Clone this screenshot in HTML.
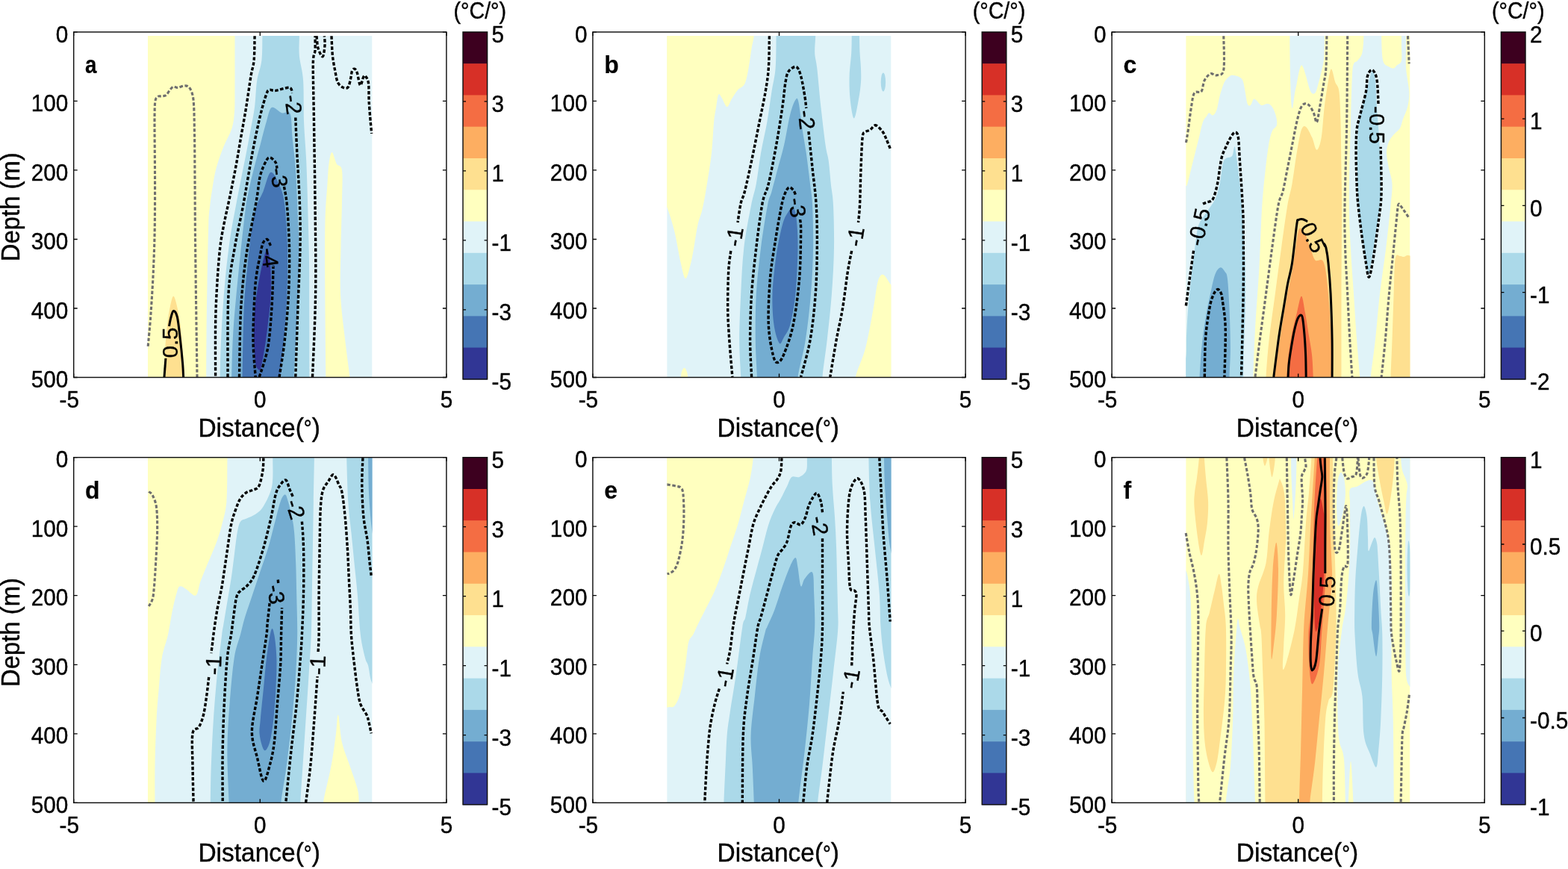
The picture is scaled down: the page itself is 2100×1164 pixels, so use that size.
<!DOCTYPE html>
<html><head><meta charset="utf-8"><title>Figure</title><style>html,body{margin:0;padding:0;background:#fff;width:2100px;height:1164px;overflow:hidden}svg{display:block}</style></head><body>
<svg width="2100" height="1164" viewBox="0 0 2100 1164" font-family="'Liberation Sans', Arial, sans-serif">
<rect width="2100" height="1164" fill="#fff"/>
<clipPath id="clip00"><rect x="198" y="48" width="300.5" height="457.5"/></clipPath>
<g clip-path="url(#clip00)">
<rect x="198.0" y="48" width="300.5" height="458" fill="#e0f3f8"/>
<path d="M314.5,30 C314.5,33 314.5,33.3 314.5,48 C314.5,62.7 314.6,101 314.5,118 C314.4,135 314.7,141 314,150 C313.3,159 312.9,164.2 310.5,172 C308.1,179.8 302.8,187.8 299.3,196.7 C295.8,205.6 292.1,215.9 289.5,225.6 C286.9,235.3 285.4,246.8 284,255 C282.6,263.2 282.1,267.5 281.3,275 C280.5,282.5 279.9,282.5 279.3,300 C278.7,317.5 278,355 277.5,380 C277,405 276.7,429.2 276.5,450 C276.3,470.8 276.2,491.7 276.2,505 C276.1,518.3 276.2,525.8 276.2,530 L150,530 L150,30 Z" fill="#ffffbf"/>
<path d="M220,530 C220,525.8 219.7,515 219.9,505 C220.1,495 220.3,481.7 221,470 C221.7,458.3 222.8,445 224,435 C225.2,425 226.6,416.4 228,410 C229.4,403.6 230.8,396.8 232.3,396.8 C233.8,396.8 235.5,403.6 237,410 C238.5,416.4 240.2,425 241.5,435 C242.8,445 243.6,458.3 244.5,470 C245.4,481.7 246.3,495 246.7,505 C247.1,515 246.9,525.8 247,530 Z" fill="#fee090"/>
<path d="M436.4,530 C436.4,525.8 436.6,526.7 436.4,505 C436.2,483.3 435.6,434.2 435.4,400 C435.2,365.8 434.9,325.7 435.4,300 C435.9,274.3 437.6,259.4 438.5,246 C439.4,232.6 439.5,226.4 440.5,219.4 C441.5,212.4 442.9,204 444.6,204 C446.3,204 448.6,215.4 450.8,219.4 C453,223.4 456.8,219.6 458,228 C459.2,236.4 458.2,253 458,270 C457.8,287 456.8,309.3 456.5,330 C456.2,350.7 455.1,373.1 456,394 C456.9,414.9 460.1,437.1 462.2,455.6 C464.3,474.1 467.1,492.6 468.4,505 C469.7,517.4 469.7,525.8 470,530 Z" fill="#ffffbf"/>
<path d="M351.4,30 C351.4,33 351.6,39.5 351.4,48 C351.2,56.5 351.6,71 350.4,81 C349.2,91 345.8,97.7 344.2,108 C342.6,118.3 342.5,132.3 341.1,143 C339.7,153.7 337.9,161.7 336,172 C334.1,182.3 331.9,194.3 329.8,205 C327.7,215.7 325.9,224.3 323.6,236 C321.3,247.7 318.6,261 316,275 C313.4,289 310.3,304.2 308,320 C305.7,335.8 303.7,353.3 302,370 C300.3,386.7 299.1,403.3 298,420 C296.9,436.7 296.1,455.8 295.5,470 C294.9,484.2 294.9,495 294.7,505 C294.5,515 294.5,525.8 294.5,530 L414.3,530 C414.3,525.8 414.3,521.7 414.3,505 C414.3,488.3 414.4,455.8 414.3,430 C414.2,404.2 414.3,375 414,350 C413.7,325 412.9,302.5 412.3,280 C411.7,257.5 411.1,234.3 410.2,215 C409.3,195.7 407.8,181.8 407.1,164 C406.4,146.2 407.1,122.8 406.1,108 C405.1,93.2 401.8,85 400.9,75 C400,65 400.9,55.5 400.9,48 C400.9,40.5 400.9,33 400.9,30 Z" fill="#abd9e9"/>
<path d="M310,530 C310,525.8 309.9,518.3 310.2,505 C310.5,491.7 311,467.5 312,450 C313,432.5 314.3,418.3 316,400 C317.7,381.7 319.9,360 322,340 C324.1,320 327,293.9 328.8,280 C330.6,266.1 331,265.6 332.9,256.5 C334.8,247.4 337.5,235.9 340.1,225.6 C342.7,215.3 345.6,204.9 348.4,194.6 C351.1,184.3 354,172.1 356.6,163.7 C359.2,155.3 360.4,146.2 363.8,144.1 C367.2,142 373.1,149.9 377.2,151.3 C381.3,152.7 386.2,146.9 388.6,152.4 C391,157.9 390.4,172.1 391.6,184.3 C392.8,196.5 394.7,209.7 395.8,225.6 C396.9,241.5 397.7,262.6 398.5,280 C399.3,297.4 400.2,313.3 400.5,330 C400.8,346.7 400.6,361.7 400,380 C399.4,398.3 398.1,419.2 397,440 C395.9,460.8 394.3,490 393.7,505 C393.1,520 393.5,525.8 393.5,530 Z" fill="#74add1"/>
<path d="M324.5,530 C324.5,525.8 324.2,524.3 324.6,505 C325,485.7 325.5,439.5 326.7,414 C327.9,388.5 330,371 331.9,352 C333.8,333 336,312.8 338,300 C340,287.2 341.6,282.2 344,275 C346.4,267.8 349.4,263.9 352.5,256.5 C355.6,249.1 359,231.7 362.8,230.7 C366.6,229.7 372.1,242.9 375.2,250.3 C378.3,257.7 379.7,261.7 381.3,275 C382.9,288.3 384.5,310.2 385,330 C385.5,349.8 385.2,373.1 384.4,394 C383.6,414.9 381.8,437.1 380.3,455.6 C378.8,474.1 376.1,492.6 375.2,505 C374.3,517.4 375,525.8 375,530 Z" fill="#4575b4"/>
<path d="M357.6,334 C359.7,332.3 360.9,342.6 361.8,352.5 C362.7,362.4 363.3,379.9 362.8,393.7 C362.3,407.4 360.1,423 358.7,435 C357.3,447 356.1,456.3 354.5,465.9 C352.9,475.5 350.8,487.8 349.4,492.7 C348,497.6 347.5,496 346.3,495 C345.1,494 343.2,493.1 342.2,486.5 C341.2,479.9 340.3,467.6 340.1,455.6 C339.9,443.6 339.6,429.8 341.1,414.3 C342.7,398.8 346.6,376.2 349.4,362.8 C352.1,349.4 355.5,335.7 357.6,334 Z" fill="#313695"/>
</g>
<path d="M198.2,463.8 C198.8,456.5 200.8,437.3 202,420 C203.2,402.7 204.6,380 205.5,360 C206.4,340 207,321.7 207.3,300 C207.6,278.3 207.6,253.3 207.5,230 C207.4,206.7 206.9,175.8 207,160 C207.1,144.2 207.2,140.6 207.9,135.5 C208.7,130.4 210.1,130.5 211.5,129.4 C212.9,128.3 214.5,129.1 216.3,128.8 C218.1,128.5 220.6,128.9 222.4,127.6 C224.2,126.3 225.6,122.9 227.2,121 C228.8,119.1 230.2,116.8 232,116.2 C233.8,115.6 235.6,117.6 238,117.4 C240.4,117.2 244,115.2 246.4,115 C248.8,114.8 250.6,114.6 252.4,116.2 C254.2,117.8 256,120.6 257.2,124.6 C258.4,128.6 258.9,130.8 259.5,140 C260.1,149.2 260.2,163.3 260.5,180 C260.8,196.7 260.8,216.7 261,240 C261.2,263.3 261.2,293.3 261.5,320 C261.8,346.7 262.1,369.2 262.5,400 C262.9,430.8 263.8,487.5 264,505" fill="none" stroke="#6e6e6e" stroke-width="3.1" stroke-dasharray="4.4 2.6"/>
<path d="M219.9,506 L221.9,480" fill="none" stroke="#000" stroke-width="3"/>
<path d="M226.5,437 C226.9,435 228,428.4 229,425 C230,421.6 230.9,416.5 232.3,416.4 C233.7,416.3 235.9,418.1 237.4,424.6 C238.9,431.1 240.3,445.3 241.5,455.6 C242.7,465.9 243.9,478.1 244.6,486.5 C245.3,494.9 245.5,502.8 245.7,506" fill="none" stroke="#000" stroke-width="3"/>
<text x="0" y="0" font-size="29.5" text-anchor="middle" dominant-baseline="central" stroke="#000" stroke-width="0.35" transform="translate(227,459) rotate(-90)">0.5</text>
<path d="M341.1,48.2 C340.9,53.7 341,72.2 340.1,81.2 C339.2,90.2 337.7,91.6 336,101.9 C334.3,112.2 332,129.3 329.8,143 C327.6,156.7 325,170.5 322.6,184.3 C320.2,198.1 318,211.8 315.4,225.6 C312.8,239.3 309.7,254.4 307.1,266.8 C304.5,279.2 302.1,289.1 300,300 C297.9,310.9 296.3,318 294.7,331.9 C293.1,345.8 291.6,366.2 290.6,383.4 C289.6,400.6 288.9,414.7 288.6,435 C288.3,455.3 288.6,493.3 288.6,505" fill="none" stroke="#000" stroke-width="3.4" stroke-dasharray="4.5 2.5"/>
<path d="M418.5,505 C419.2,486.4 422,432.9 422.6,393.7 C423.2,354.5 422.4,308.3 422,270 C421.6,231.7 420.9,194.5 420.5,163.7 C420.1,132.9 419.1,101.4 419.3,85.4 C419.6,69.4 421.6,73.7 422,67.5 C422.4,61.3 422,51.5 422,48.3" fill="none" stroke="#000" stroke-width="3.4" stroke-dasharray="4.5 2.5"/>
<path d="M424,48.3 C424.4,51 424.7,60.2 426.1,64.8 C427.5,69.4 430.8,76.5 432.3,75.8 C433.8,75.1 434.6,65.2 435,60.6 C435.4,56 434.5,50.3 434.4,48.3" fill="none" stroke="#000" stroke-width="3.4" stroke-dasharray="4.5 2.5"/>
<path d="M444,48.3 C444.2,52.6 444.6,66.6 445.4,74.4 C446.2,82.2 447.6,89 448.8,95 C450,101 450.6,106.5 452.3,110.2 C454,113.9 456.8,115.9 459.1,117 C461.4,118.1 464.3,118.8 466,117 C467.7,115.2 468.6,109.7 469.5,106 C470.4,102.3 470.6,97.3 471.5,95 C472.4,92.7 473.9,91.8 475,92.3 C476.1,92.8 477.1,94.1 478.4,97.8 C479.6,101.5 481.1,113.4 482.5,114.3 C483.9,115.2 485.6,105.4 486.7,103.3 C487.8,101.2 488.3,100.5 489.4,101.9 C490.5,103.3 492.7,105.8 493.5,111.5 C494.3,117.2 493.7,127.6 494.2,136.3 C494.7,145 495.7,156.7 496.3,163.8 C496.9,170.9 497.5,176.4 497.7,178.9" fill="none" stroke="#000" stroke-width="3.4" stroke-dasharray="4.5 2.5"/>
<path d="M305,505 C305.2,486.4 304.4,422.6 306,393.7 C307.6,364.8 311,351.7 314.3,331.9 C317.6,312.1 321.8,296.1 325.7,275 C329.6,253.8 334.2,224.9 338,205 C341.8,185.1 345.3,168.6 348.4,155.5 C351.5,142.4 354.6,132.4 356.6,126.6 C358.7,120.8 358.6,121.3 360.7,120.4 C362.8,119.5 364.5,121.9 369,121.4 C373.5,120.9 383.7,116.8 387.5,117.3 C391.3,117.8 390.9,123.3 391.6,124.5" fill="none" stroke="#000" stroke-width="3.4" stroke-dasharray="4.5 2.5"/>
<path d="M395.8,157.5 C396.1,165.4 396.9,185.4 397.8,205 C398.8,224.6 400.8,253.8 401.5,275 C402.2,296.1 402.4,308.7 402,331.9 C401.6,355.1 399.9,385.4 398.9,414.3 C397.9,443.2 396.3,489.9 395.8,505" fill="none" stroke="#000" stroke-width="3.4" stroke-dasharray="4.5 2.5"/>
<text x="0" y="0" font-size="29.5" text-anchor="middle" dominant-baseline="central" stroke="#000" stroke-width="0.35" transform="translate(393,140) rotate(82)">-2</text>
<path d="M320.5,505 C320.9,489.9 321.1,441.4 322.6,414.3 C324.2,387.2 326.4,366.2 329.8,342.2 C333.2,318.1 340.1,287.7 343.2,270 C346.3,252.3 346.2,245 348.4,235.9 C350.6,226.8 354.4,219.4 356.6,215.3 C358.8,211.2 359.7,210.8 361.8,211.1 C363.9,211.4 367.5,214.9 369,217.3 C370.5,219.7 370.7,224.2 371,225.6" fill="none" stroke="#000" stroke-width="3.4" stroke-dasharray="4.5 2.5"/>
<path d="M380.5,250 C381.1,254.2 383.2,261.4 384.4,275 C385.6,288.6 387.1,312.1 387.5,331.9 C387.9,351.7 387.5,373.1 386.5,393.7 C385.5,414.3 383.4,437.1 381.3,455.6 C379.2,474.2 375.3,496.8 374.1,505" fill="none" stroke="#000" stroke-width="3.4" stroke-dasharray="4.5 2.5"/>
<text x="0" y="0" font-size="29.5" text-anchor="middle" dominant-baseline="central" stroke="#000" stroke-width="0.35" transform="translate(374,238) rotate(82)">-3</text>
<path d="M362.5,329 C361.7,327.6 359.4,321 357.6,320.5 C355.9,320 353.5,322.4 352,326 C350.5,329.6 349.7,335.7 348.4,342.2 C347.1,348.7 345.2,356.4 344,365 C342.8,373.6 341.9,378.6 341.1,393.7 C340.3,408.8 338.8,437.1 339,455.6 C339.2,474.2 341.7,496.8 342.2,505" fill="none" stroke="#000" stroke-width="3.4" stroke-dasharray="4.5 2.5"/>
<path d="M347.3,505 C349.2,498.5 355.9,481 358.7,465.9 C361.4,450.8 362.6,431.5 363.8,414.3 C365,397.1 365.6,372.4 365.9,362.8 C366.2,353.2 365.6,358 365.5,357" fill="none" stroke="#000" stroke-width="3.4" stroke-dasharray="4.5 2.5"/>
<text x="0" y="0" font-size="29.5" text-anchor="middle" dominant-baseline="central" stroke="#000" stroke-width="0.35" transform="translate(361.5,345) rotate(82)">-4</text>
<path d="M98.7,42.9 h5 M597.9,42.9 h-5" stroke="#000" stroke-width="1.3" fill="none"/>
<text x="0" y="0" transform="translate(91.2,56.5) scale(0.99,1.045)" font-size="30" text-anchor="end" stroke="#000" stroke-width="0.4">0</text>
<path d="M98.7,135.4 h5 M597.9,135.4 h-5" stroke="#000" stroke-width="1.3" fill="none"/>
<text x="0" y="0" transform="translate(91.2,149) scale(0.99,1.045)" font-size="30" text-anchor="end" stroke="#000" stroke-width="0.4">100</text>
<path d="M98.7,227.9 h5 M597.9,227.9 h-5" stroke="#000" stroke-width="1.3" fill="none"/>
<text x="0" y="0" transform="translate(91.2,241.5) scale(0.99,1.045)" font-size="30" text-anchor="end" stroke="#000" stroke-width="0.4">200</text>
<path d="M98.7,320.5 h5 M597.9,320.5 h-5" stroke="#000" stroke-width="1.3" fill="none"/>
<text x="0" y="0" transform="translate(91.2,334.1) scale(0.99,1.045)" font-size="30" text-anchor="end" stroke="#000" stroke-width="0.4">300</text>
<path d="M98.7,413 h5 M597.9,413 h-5" stroke="#000" stroke-width="1.3" fill="none"/>
<text x="0" y="0" transform="translate(91.2,426.6) scale(0.99,1.045)" font-size="30" text-anchor="end" stroke="#000" stroke-width="0.4">400</text>
<path d="M98.7,505.5 h5 M597.9,505.5 h-5" stroke="#000" stroke-width="1.3" fill="none"/>
<text x="0" y="0" transform="translate(91.2,519.1) scale(0.99,1.045)" font-size="30" text-anchor="end" stroke="#000" stroke-width="0.4">500</text>
<path d="M98.7,505.5 v-5 M98.7,42.9 v5" stroke="#000" stroke-width="1.3" fill="none"/>
<text x="0" y="0" transform="translate(92.7,546.2) scale(0.99,1.045)" font-size="30" text-anchor="middle" stroke="#000" stroke-width="0.4">-5</text>
<path d="M348.3,505.5 v-5 M348.3,42.9 v5" stroke="#000" stroke-width="1.3" fill="none"/>
<text x="0" y="0" transform="translate(348.3,546.2) scale(0.99,1.045)" font-size="30" text-anchor="middle" stroke="#000" stroke-width="0.4">0</text>
<path d="M597.9,505.5 v-5 M597.9,42.9 v5" stroke="#000" stroke-width="1.3" fill="none"/>
<text x="0" y="0" transform="translate(597.9,546.2) scale(0.99,1.045)" font-size="30" text-anchor="middle" stroke="#000" stroke-width="0.4">5</text>
<rect x="98.7" y="42.9" width="499.2" height="462.6" fill="none" stroke="#111" stroke-width="1.45"/>
<text x="0" y="0" transform="translate(347.1,584.5) scale(1.0,1.07)" font-size="33.5" text-anchor="middle" stroke="#000" stroke-width="0.4">Distance(<tspan font-size="27" dy="-1.5">°</tspan><tspan dy="1.5">)</tspan></text>
<text x="0" y="0" font-size="33.5" text-anchor="middle" stroke="#000" stroke-width="0.4" transform="translate(26.3,277.2) rotate(-90) scale(0.98,1.07)">Depth (m)</text>
<text x="0" y="0" transform="translate(114.1,98.2) scale(0.87,1.04)" font-size="32" text-anchor="start" font-weight="bold" stroke="#000" stroke-width="0.2">a</text>
<rect x="620" y="42.9" width="32.6" height="42.9" fill="#3d001f"/>
<rect x="620" y="85.2" width="32.6" height="42.9" fill="#d73027"/>
<rect x="620" y="127.4" width="32.6" height="42.9" fill="#f46d43"/>
<rect x="620" y="169.7" width="32.6" height="42.9" fill="#fdae61"/>
<rect x="620" y="212" width="32.6" height="42.9" fill="#fee090"/>
<rect x="620" y="254.3" width="32.6" height="42.9" fill="#ffffbf"/>
<rect x="620" y="296.5" width="32.6" height="42.9" fill="#e0f3f8"/>
<rect x="620" y="338.8" width="32.6" height="42.9" fill="#abd9e9"/>
<rect x="620" y="381.1" width="32.6" height="42.9" fill="#74add1"/>
<rect x="620" y="423.4" width="32.6" height="42.9" fill="#4575b4"/>
<rect x="620" y="465.6" width="32.6" height="42.9" fill="#313695"/>
<text x="0" y="0" transform="translate(658.6,57) scale(0.99,1.045)" font-size="30" text-anchor="start" stroke="#000" stroke-width="0.4">5</text>
<path d="M620,135.9 h4 M652.6,135.9 h-4" stroke="#000" stroke-width="1.3" fill="none"/>
<text x="0" y="0" transform="translate(658.6,150) scale(0.99,1.045)" font-size="30" text-anchor="start" stroke="#000" stroke-width="0.4">3</text>
<path d="M620,228.9 h4 M652.6,228.9 h-4" stroke="#000" stroke-width="1.3" fill="none"/>
<text x="0" y="0" transform="translate(658.6,243) scale(0.99,1.045)" font-size="30" text-anchor="start" stroke="#000" stroke-width="0.4">1</text>
<path d="M620,321.9 h4 M652.6,321.9 h-4" stroke="#000" stroke-width="1.3" fill="none"/>
<text x="0" y="0" transform="translate(658.6,336) scale(0.99,1.045)" font-size="30" text-anchor="start" stroke="#000" stroke-width="0.4">-1</text>
<path d="M620,414.9 h4 M652.6,414.9 h-4" stroke="#000" stroke-width="1.3" fill="none"/>
<text x="0" y="0" transform="translate(658.6,429) scale(0.99,1.045)" font-size="30" text-anchor="start" stroke="#000" stroke-width="0.4">-3</text>
<text x="0" y="0" transform="translate(658.6,522) scale(0.99,1.045)" font-size="30" text-anchor="start" stroke="#000" stroke-width="0.4">-5</text>
<rect x="620" y="42.9" width="32.6" height="465" fill="none" stroke="#111" stroke-width="1.45"/>
<text x="0" y="0" transform="translate(642.8,24.8) scale(0.955,1.06)" font-size="30" text-anchor="middle" stroke="#000" stroke-width="0.4">(°C/°)</text>
<clipPath id="clip10"><rect x="893.2" y="48" width="300.3" height="457.5"/></clipPath>
<g clip-path="url(#clip10)">
<rect x="893.2" y="48" width="300.29999999999995" height="458" fill="#e0f3f8"/>
<path d="M1009.7,30 C1009.7,33 1010.2,42.4 1009.7,48.2 C1009.2,54 1007.8,57.5 1006.6,64.7 C1005.4,71.9 1004,83.6 1002.5,91.5 C1001,99.4 999.8,107.4 997.4,112.2 C995,117 991,117 988.1,120.4 C985.2,123.8 982.2,129 979.8,132.8 C977.4,136.6 975.9,143.4 973.7,143.1 C971.5,142.8 968.3,133.4 966.4,130.7 C964.5,127.9 963.5,124.5 962.3,126.6 C961.1,128.7 960.2,136.9 959.2,143.1 C958.2,149.3 957.1,153.4 956.1,163.7 C955.1,174 954.5,191.2 953,205 C951.5,218.8 948.9,233.7 946.9,246.2 C944.9,258.7 942.8,270.9 940.7,280 C938.6,289.1 936.4,292.4 934.5,301 C932.6,309.6 931,322.6 929.3,331.9 C927.6,341.2 926.1,349.7 924.2,356.6 C922.3,363.5 920.1,373.8 918,373.1 C915.9,372.4 914.2,362.8 911.8,352.5 C909.4,342.2 906.4,322.8 903.6,311.2 C900.9,299.6 897.2,288.7 895.3,283 C893.4,277.3 894.5,278.8 892,277 C889.5,275.2 882,272.8 880,272 L880,30 Z" fill="#ffffbf"/>
<path d="M1145.5,530 C1145.5,525.8 1143.5,515.7 1145.8,505 C1148.1,494.3 1155.2,481 1159.2,465.9 C1163.2,450.8 1166.8,429.1 1169.5,414.3 C1172.2,399.5 1173.5,384.9 1175.7,377.2 C1177.9,369.5 1180,367.2 1182.9,367.9 C1185.8,368.6 1189.5,376.8 1193.2,381.3 C1196.9,385.8 1203,392.7 1205,395 L1205,530 Z" fill="#ffffbf"/>
<path d="M911.5,515 C911.7,512.5 911.7,503.7 912.5,500 C913.3,496.3 915.2,492.7 916.5,492.7 C917.8,492.7 919.7,496.3 920.5,500 C921.3,503.7 921.2,512.5 921.3,515 Z" fill="#ffffbf"/>
<path d="M1039.6,30 C1039.6,33 1039.8,38 1039.6,48.2 C1039.4,58.5 1039.6,79.1 1038.6,91.5 C1037.6,103.9 1035.4,110.5 1033.5,122.5 C1031.6,134.5 1029.7,149.9 1027.3,163.7 C1024.9,177.4 1021.4,191.2 1019,205 C1016.6,218.8 1015,234.5 1012.8,246.2 C1010.6,257.9 1008.8,260.7 1006,275 C1003.2,289.3 998.6,312.1 996.3,331.9 C994,351.7 993.2,373.1 992.2,393.7 C991.2,414.3 990.2,437.1 990.2,455.6 C990.2,474.2 991.8,492.6 992.2,505 C992.6,517.4 992.5,525.8 992.5,530 L1101.5,530 C1101.5,525.8 1100.5,517.4 1101.5,505 C1102.5,492.6 1105.6,474.2 1107.7,455.6 C1109.8,437.1 1112.4,414.3 1113.9,393.7 C1115.5,373.1 1116.7,351.7 1117,331.9 C1117.3,312.1 1116.7,289.3 1116,275 C1115.3,260.7 1113.8,256.1 1112.8,246.2 C1111.8,236.2 1110.9,223.9 1109.7,215.3 C1108.5,206.7 1107.3,206.6 1105.6,194.6 C1103.9,182.6 1101.3,160.3 1099.4,143.1 C1097.5,125.9 1095.7,103.5 1094.3,91.5 C1092.9,79.5 1091.5,78.2 1091.2,71 C1090.9,63.8 1092,55 1092.2,48.2 C1092.4,41.4 1092.2,33 1092.2,30 Z" fill="#abd9e9"/>
<path d="M1140.7,35 C1140.7,37.5 1140.8,44 1140.7,50 C1140.6,56 1140.7,62.4 1140.2,71 C1139.7,79.7 1137.9,91.6 1137.6,101.9 C1137.3,112.2 1137.6,123.4 1138.6,132.8 C1139.6,142.2 1141.9,158.6 1143.8,158.6 C1145.7,158.6 1148.5,140.9 1150,132.8 C1151.5,124.7 1152.5,116.9 1153,110 C1153.5,103.1 1153.2,98.2 1153,91.5 C1152.8,84.8 1151.8,76.9 1151.5,70 C1151.2,63.1 1151.1,55.8 1151,50 C1150.9,44.2 1151,37.5 1151,35 Z" fill="#abd9e9"/>
<ellipse cx="1182.9" cy="110" rx="3.2" ry="12.5" fill="#abd9e9"/>
<path d="M1013.9,530 C1013.9,525.8 1014.2,517.4 1013.9,505 C1013.5,492.6 1012,474.2 1011.8,455.6 C1011.6,437.1 1011.6,414.3 1012.8,393.7 C1014,373.1 1016.5,351.7 1019,331.9 C1021.5,312.1 1025.6,287.6 1028,275 C1030.4,262.4 1031.2,264.7 1033.5,256.5 C1035.8,248.3 1039,235.9 1041.7,225.6 C1044.5,215.3 1047.2,206.6 1050,194.6 C1052.8,182.6 1055.6,163.5 1058.2,153.4 C1060.8,143.3 1063.5,136.5 1065.4,133.8 C1067.3,131.1 1068,130.3 1069.5,137 C1071,143.7 1073,162.7 1074.7,174 C1076.4,185.3 1078.1,193 1079.8,205 C1081.5,217 1083.6,234.5 1085,246.2 C1086.4,257.9 1087.4,260.7 1088.1,275 C1088.8,289.3 1089.4,312.1 1089.1,331.9 C1088.8,351.7 1087.7,373.1 1086,393.7 C1084.3,414.3 1081.7,437.1 1078.8,455.6 C1075.9,474.2 1070.3,492.6 1068.5,505 C1066.7,517.4 1068.1,525.8 1068,530 Z" fill="#74add1"/>
<path d="M1062,279 C1063.9,279.9 1065.3,281.8 1066.4,290.6 C1067.5,299.4 1068.7,314.7 1068.5,331.9 C1068.3,349.1 1067.1,376.5 1065.4,393.7 C1063.7,410.9 1060.8,425.4 1058.2,435 C1055.6,444.6 1052.4,447.3 1050,451.4 C1047.6,455.5 1046,462.4 1043.8,459.7 C1041.5,457 1038,446 1036.5,435 C1035,424 1034,409.2 1034.5,393.7 C1035,378.2 1037.4,357.7 1039.6,342.2 C1041.8,326.7 1045.3,310.4 1047.9,300.9 C1050.5,291.4 1052.7,288.6 1055,285 C1057.3,281.4 1060.1,278.1 1062,279 Z" fill="#4575b4"/>
</g>
<path d="M1030.4,48.2 C1030.2,55.4 1030.2,79.1 1029.3,91.5 C1028.4,103.9 1027.2,110.5 1025.2,122.5 C1023.2,134.5 1020.1,148.2 1017,163.7 C1013.9,179.2 1009.9,199.8 1006.6,215.3 C1003.3,230.8 999.8,247.1 997.4,256.5 C995,265.9 993.8,265.1 992.2,272 C990.6,278.9 988.7,293.7 988,298" fill="none" stroke="#000" stroke-width="3.4" stroke-dasharray="4.5 2.5"/>
<path d="M978.8,336 C978.3,340.5 976.4,349.8 975.7,362.8 C975,375.9 974.5,398.8 974.7,414.3 C974.9,429.8 975.8,440.5 976.8,455.6 C977.8,470.7 980.2,496.8 980.9,505" fill="none" stroke="#000" stroke-width="3.4" stroke-dasharray="4.5 2.5"/>
<text x="0" y="0" font-size="29.5" text-anchor="middle" dominant-baseline="central" stroke="#000" stroke-width="0.35" transform="translate(983.5,317) rotate(-81)">-1</text>
<path d="M1006.6,505 C1006.3,496.8 1004.6,474.2 1004.6,455.6 C1004.6,437.1 1005.2,414.3 1006.6,393.7 C1008,373.1 1010.4,352.2 1012.8,331.9 C1015.2,311.6 1018.4,286.3 1021.1,272 C1023.9,257.7 1026.2,259.1 1029.3,246.2 C1032.4,233.3 1036.5,211.8 1039.6,194.6 C1042.7,177.4 1045.8,157.2 1047.9,143.1 C1050,129 1050.6,118 1052,110.1 C1053.4,102.2 1053.7,99.1 1056.1,95.7 C1058.5,92.3 1063.7,88.5 1066.4,89.5 C1069.2,90.5 1070.7,95.4 1072.6,101.9 C1074.5,108.4 1076.6,121.5 1077.8,128.7 C1079,135.9 1079.5,142.3 1079.8,145" fill="none" stroke="#000" stroke-width="3.4" stroke-dasharray="4.5 2.5"/>
<path d="M1082.9,176.1 C1083.8,184.3 1086.4,209.1 1088.1,225.6 C1089.8,242.1 1092.2,257.3 1093.2,275 C1094.2,292.7 1094.5,312.1 1094.3,331.9 C1094.1,351.7 1093.8,373.1 1092.2,393.7 C1090.7,414.3 1088.3,437.1 1085,455.6 C1081.7,474.2 1074.7,496.8 1072.6,505" fill="none" stroke="#000" stroke-width="3.4" stroke-dasharray="4.5 2.5"/>
<text x="0" y="0" font-size="29.5" text-anchor="middle" dominant-baseline="central" stroke="#000" stroke-width="0.35" transform="translate(1080.5,160.5) rotate(84)">-2</text>
<path d="M1071.6,294 C1071.8,296.9 1072.8,298 1072.6,311.2 C1072.4,324.4 1072.3,352.5 1070.6,373.1 C1068.9,393.7 1065.7,418.2 1062.3,435 C1058.9,451.8 1053.4,465.7 1050,474.1 C1046.6,482.5 1044.1,485.1 1041.7,485.5 C1039.3,485.9 1037.6,484.6 1035.5,476.2 C1033.4,467.8 1030,452.2 1029.3,435 C1028.6,417.8 1029.9,392 1031.4,373.1 C1033,354.2 1036.2,337 1038.6,321.5 C1041,306 1043.9,289.8 1045.8,280 C1047.7,270.2 1048.3,267.5 1050,262.7 C1051.7,257.9 1054,252.7 1056.1,251.3 C1058.1,249.9 1060.7,252.8 1062.3,254.4 C1063.9,256 1065,259.9 1065.5,261" fill="none" stroke="#000" stroke-width="3.4" stroke-dasharray="4.5 2.5"/>
<text x="0" y="0" font-size="29.5" text-anchor="middle" dominant-baseline="central" stroke="#000" stroke-width="0.35" transform="translate(1068,278) rotate(82)">-3</text>
<path d="M1192.2,198.8 C1191.3,196.7 1188.8,190.2 1187.1,186.4 C1185.4,182.6 1184.3,179.2 1181.9,176.1 C1179.5,173 1175.3,168.2 1172.6,167.8 C1169.8,167.5 1167.8,172.4 1165.4,174 C1163,175.6 1159.9,175.4 1158.2,177.1 C1156.5,178.8 1156,176.2 1155.1,184.3 C1154.2,192.4 1153.6,210.5 1153,225.6 C1152.4,240.7 1152.1,262.9 1151.5,275 C1150.9,287.1 1149.8,294.2 1149.5,298" fill="none" stroke="#000" stroke-width="3.4" stroke-dasharray="4.5 2.5"/>
<path d="M1140.7,336 C1139.8,340.5 1137.6,349.8 1135.5,362.8 C1133.4,375.9 1130.9,398.8 1128.3,414.3 C1125.7,429.8 1122.8,440.5 1120.1,455.6 C1117.3,470.7 1113.2,496.8 1111.8,505" fill="none" stroke="#000" stroke-width="3.4" stroke-dasharray="4.5 2.5"/>
<text x="0" y="0" font-size="29.5" text-anchor="middle" dominant-baseline="central" stroke="#000" stroke-width="0.35" transform="translate(1145.5,317) rotate(-81)">-1</text>
<path d="M793.9,42.9 h5 M1293.1,42.9 h-5" stroke="#000" stroke-width="1.3" fill="none"/>
<text x="0" y="0" transform="translate(786.4,56.5) scale(0.99,1.045)" font-size="30" text-anchor="end" stroke="#000" stroke-width="0.4">0</text>
<path d="M793.9,135.4 h5 M1293.1,135.4 h-5" stroke="#000" stroke-width="1.3" fill="none"/>
<text x="0" y="0" transform="translate(786.4,149) scale(0.99,1.045)" font-size="30" text-anchor="end" stroke="#000" stroke-width="0.4">100</text>
<path d="M793.9,227.9 h5 M1293.1,227.9 h-5" stroke="#000" stroke-width="1.3" fill="none"/>
<text x="0" y="0" transform="translate(786.4,241.5) scale(0.99,1.045)" font-size="30" text-anchor="end" stroke="#000" stroke-width="0.4">200</text>
<path d="M793.9,320.5 h5 M1293.1,320.5 h-5" stroke="#000" stroke-width="1.3" fill="none"/>
<text x="0" y="0" transform="translate(786.4,334.1) scale(0.99,1.045)" font-size="30" text-anchor="end" stroke="#000" stroke-width="0.4">300</text>
<path d="M793.9,413 h5 M1293.1,413 h-5" stroke="#000" stroke-width="1.3" fill="none"/>
<text x="0" y="0" transform="translate(786.4,426.6) scale(0.99,1.045)" font-size="30" text-anchor="end" stroke="#000" stroke-width="0.4">400</text>
<path d="M793.9,505.5 h5 M1293.1,505.5 h-5" stroke="#000" stroke-width="1.3" fill="none"/>
<text x="0" y="0" transform="translate(786.4,519.1) scale(0.99,1.045)" font-size="30" text-anchor="end" stroke="#000" stroke-width="0.4">500</text>
<path d="M793.9,505.5 v-5 M793.9,42.9 v5" stroke="#000" stroke-width="1.3" fill="none"/>
<text x="0" y="0" transform="translate(787.9,546.2) scale(0.99,1.045)" font-size="30" text-anchor="middle" stroke="#000" stroke-width="0.4">-5</text>
<path d="M1043.5,505.5 v-5 M1043.5,42.9 v5" stroke="#000" stroke-width="1.3" fill="none"/>
<text x="0" y="0" transform="translate(1043.5,546.2) scale(0.99,1.045)" font-size="30" text-anchor="middle" stroke="#000" stroke-width="0.4">0</text>
<path d="M1293.1,505.5 v-5 M1293.1,42.9 v5" stroke="#000" stroke-width="1.3" fill="none"/>
<text x="0" y="0" transform="translate(1293.1,546.2) scale(0.99,1.045)" font-size="30" text-anchor="middle" stroke="#000" stroke-width="0.4">5</text>
<rect x="793.9" y="42.9" width="499.2" height="462.6" fill="none" stroke="#111" stroke-width="1.45"/>
<text x="0" y="0" transform="translate(1042.3,584.5) scale(1.0,1.07)" font-size="33.5" text-anchor="middle" stroke="#000" stroke-width="0.4">Distance(<tspan font-size="27" dy="-1.5">°</tspan><tspan dy="1.5">)</tspan></text>
<text x="0" y="0" transform="translate(809.3,98.2) scale(1.0,1.04)" font-size="32" text-anchor="start" font-weight="bold" stroke="#000" stroke-width="0.2">b</text>
<rect x="1315.2" y="42.9" width="32.6" height="42.9" fill="#3d001f"/>
<rect x="1315.2" y="85.2" width="32.6" height="42.9" fill="#d73027"/>
<rect x="1315.2" y="127.4" width="32.6" height="42.9" fill="#f46d43"/>
<rect x="1315.2" y="169.7" width="32.6" height="42.9" fill="#fdae61"/>
<rect x="1315.2" y="212" width="32.6" height="42.9" fill="#fee090"/>
<rect x="1315.2" y="254.3" width="32.6" height="42.9" fill="#ffffbf"/>
<rect x="1315.2" y="296.5" width="32.6" height="42.9" fill="#e0f3f8"/>
<rect x="1315.2" y="338.8" width="32.6" height="42.9" fill="#abd9e9"/>
<rect x="1315.2" y="381.1" width="32.6" height="42.9" fill="#74add1"/>
<rect x="1315.2" y="423.4" width="32.6" height="42.9" fill="#4575b4"/>
<rect x="1315.2" y="465.6" width="32.6" height="42.9" fill="#313695"/>
<text x="0" y="0" transform="translate(1353.8,57) scale(0.99,1.045)" font-size="30" text-anchor="start" stroke="#000" stroke-width="0.4">5</text>
<path d="M1315.2,135.9 h4 M1347.8,135.9 h-4" stroke="#000" stroke-width="1.3" fill="none"/>
<text x="0" y="0" transform="translate(1353.8,150) scale(0.99,1.045)" font-size="30" text-anchor="start" stroke="#000" stroke-width="0.4">3</text>
<path d="M1315.2,228.9 h4 M1347.8,228.9 h-4" stroke="#000" stroke-width="1.3" fill="none"/>
<text x="0" y="0" transform="translate(1353.8,243) scale(0.99,1.045)" font-size="30" text-anchor="start" stroke="#000" stroke-width="0.4">1</text>
<path d="M1315.2,321.9 h4 M1347.8,321.9 h-4" stroke="#000" stroke-width="1.3" fill="none"/>
<text x="0" y="0" transform="translate(1353.8,336) scale(0.99,1.045)" font-size="30" text-anchor="start" stroke="#000" stroke-width="0.4">-1</text>
<path d="M1315.2,414.9 h4 M1347.8,414.9 h-4" stroke="#000" stroke-width="1.3" fill="none"/>
<text x="0" y="0" transform="translate(1353.8,429) scale(0.99,1.045)" font-size="30" text-anchor="start" stroke="#000" stroke-width="0.4">-3</text>
<text x="0" y="0" transform="translate(1353.8,522) scale(0.99,1.045)" font-size="30" text-anchor="start" stroke="#000" stroke-width="0.4">-5</text>
<rect x="1315.2" y="42.9" width="32.6" height="465" fill="none" stroke="#111" stroke-width="1.45"/>
<text x="0" y="0" transform="translate(1338,24.8) scale(0.955,1.06)" font-size="30" text-anchor="middle" stroke="#000" stroke-width="0.4">(°C/°)</text>
<clipPath id="clip20"><rect x="1588.2" y="48" width="300.3" height="457.5"/></clipPath>
<g clip-path="url(#clip20)">
<rect x="1588.2" y="48" width="300.29999999999995" height="458" fill="#ffffbf"/>
<path d="M1580,252 C1581.4,251.5 1586.5,250 1588.2,249 C1589.9,248 1589.1,250.1 1590.3,246.2 C1591.5,242.3 1593.8,232.5 1595.5,225.6 C1597.2,218.7 1598.9,211.9 1600.6,205 C1602.3,198.1 1604.1,191.2 1605.8,184.3 C1607.5,177.4 1609.2,168.5 1610.9,163.7 C1612.6,158.9 1614.7,157.6 1616.1,155.5 C1617.5,153.4 1617.8,151.5 1619.2,151.3 C1620.6,151.1 1622.6,155.1 1624.3,154.4 C1626,153.7 1628,151.5 1629.5,147.2 C1631,142.9 1631.9,134.9 1633.6,128.7 C1635.3,122.5 1637.6,114.6 1639.8,110.1 C1642,105.6 1645.1,103.5 1647,101.9 C1648.9,100.4 1649,100.6 1651.1,100.8 C1653.2,101 1657.2,101.7 1659.4,102.9 C1661.6,104.1 1663.1,104.7 1664.5,108 C1665.9,111.3 1666.6,117.3 1667.6,122.5 C1668.6,127.7 1669.5,135.9 1670.7,139 C1671.9,142.1 1673.4,142 1674.8,141 C1676.2,140 1677.6,133.8 1679,132.8 C1680.4,131.8 1681.4,133.4 1683.1,134.8 C1684.8,136.2 1686.9,140.3 1689.3,141 C1691.7,141.7 1695.1,138.7 1697.5,139 C1699.9,139.3 1701.8,140.3 1703.7,143.1 C1705.6,145.8 1707.9,151.4 1708.9,155.5 C1709.9,159.6 1710.8,164.4 1709.9,167.8 C1709,171.2 1705.5,171.5 1703.7,176 C1701.9,180.5 1700.5,186 1699,195 C1697.5,204 1696,215.8 1694.5,230 C1693,244.2 1691.3,258.4 1690,280 C1688.7,301.6 1687.9,333.1 1686.4,359.7 C1684.9,386.3 1682.4,415.3 1681.1,439.5 C1679.8,463.7 1678.9,491.6 1678.5,505 C1678.1,518.4 1678.5,517.5 1678.5,520 L1580,520 Z" fill="#e0f3f8"/>
<path d="M1665.2,520 C1665.2,513.3 1665.1,497.9 1665.5,480 C1665.9,462.1 1667.4,432.9 1667.8,412.9 C1668.2,392.8 1668.2,377.4 1667.8,359.7 C1667.4,341.9 1666.1,321.9 1665.2,306.4 C1664.3,290.9 1663.5,278.6 1662.5,266.8 C1661.5,255.1 1660.6,246.2 1659.4,235.9 C1658.2,225.6 1656.3,211.5 1655.3,205 C1654.3,198.5 1654.1,196 1653.2,196.7 C1652.3,197.4 1652,206.5 1650.1,209.1 C1648.2,211.7 1644,210.5 1641.9,212.2 C1639.8,213.9 1639.1,213.7 1637.7,219.4 C1636.3,225.1 1635.3,238.3 1633.6,246.2 C1631.9,254.1 1630.1,260.8 1627.4,266.8 C1624.7,272.8 1621.1,276.7 1617.6,282 C1614.1,287.3 1608.9,293.6 1606.5,298.5 C1604.1,303.4 1604.1,305.4 1603,311.6 C1601.9,317.9 1600.8,327.9 1599.7,336 C1598.6,344.1 1597.5,351 1596.4,360.5 C1595.3,370 1594.2,383.2 1593.2,393.1 C1592.2,403 1591.4,410.5 1590.7,420 C1590,429.5 1589.5,440 1589,450 C1588.5,460 1589.5,471.7 1588,480 C1586.5,488.3 1581.3,496.7 1580,500 L1580,520 Z" fill="#abd9e9"/>
<path d="M1606.5,520 C1606.5,517.5 1606.1,514 1606.6,505 C1607.1,496 1608,479.2 1609.3,466.1 C1610.6,453 1612.4,439.5 1614.6,426.2 C1616.8,412.9 1620.4,396.3 1622.6,386.3 C1624.8,376.3 1626,370.7 1628,366 C1630,361.3 1632.5,358.6 1634.6,358.3 C1636.7,358 1639,361.6 1640.5,364 C1642,366.4 1642.9,364.9 1643.9,373 C1644.9,381.1 1645.8,397.4 1646.5,412.9 C1647.2,428.4 1647.9,450.8 1647.9,466.1 C1647.9,481.5 1646.7,496 1646.5,505 C1646.3,514 1646.5,517.5 1646.5,520 Z" fill="#74add1"/>
<path d="M1727.4,30 C1727.4,35 1727.3,48 1727.4,60 C1727.5,72 1727.7,88.6 1728,101.9 C1728.3,115.2 1728.9,133.2 1729.5,140 C1730.1,146.8 1730.8,145.5 1731.5,143 C1732.2,140.5 1733.1,130.1 1734,125 C1734.9,119.9 1735.7,117.2 1736.7,112.2 C1737.7,107.2 1739,99.1 1740,95 C1741,90.9 1741.9,87.9 1742.9,87.4 C1743.9,86.9 1745,89.6 1746,92 C1747,94.4 1747.5,96.8 1749.1,101.9 C1750.6,107 1753.2,118.7 1755.3,122.5 C1757.3,126.3 1759.7,126.2 1761.4,124.5 C1763.1,122.8 1764.2,117.1 1765.6,112.2 C1767,107.3 1768.8,100.2 1770,95 C1771.2,89.8 1772.2,87 1772.8,81.2 C1773.4,75.4 1773.6,68.5 1773.8,60 C1774,51.5 1773.8,35 1773.8,30 Z" fill="#e0f3f8"/>
<path d="M1695.5,520 C1695.5,517.5 1694.8,515.7 1695.5,505 C1696.2,494.3 1697.5,474.2 1699.6,455.6 C1701.6,437.1 1705,414.3 1707.8,393.7 C1710.5,373.1 1713.3,351.7 1716.1,331.9 C1718.8,312.1 1721.9,289.3 1724.3,275 C1726.7,260.7 1728.4,257.9 1730.5,246.2 C1732.6,234.5 1734.6,217 1736.7,205 C1738.8,193 1740.8,179.8 1742.9,174 C1745,168.2 1746.7,168.2 1749.1,169.9 C1751.5,171.6 1754.9,179.2 1757.3,184.3 C1759.7,189.5 1761.4,200.8 1763.5,200.8 C1765.6,200.8 1768,193.9 1769.7,184.3 C1771.4,174.7 1772.2,155.8 1773.8,143.1 C1775.3,130.4 1777.5,116.4 1779,108 C1780.5,99.6 1781.6,92.2 1783.1,92.6 C1784.6,92.9 1786.5,105.1 1788.2,110.1 C1789.9,115.1 1792.2,113.6 1793.4,122.5 C1794.6,131.4 1795,146.5 1795.5,163.7 C1796,180.9 1796.2,206.2 1796.5,225.6 C1796.8,245 1797.2,252 1797.2,280 C1797.2,308 1796.6,356.2 1796.5,393.7 C1796.4,431.2 1796.5,483.9 1796.5,505 C1796.5,526 1796.5,517.5 1796.5,520 Z" fill="#fee090"/>
<path d="M1706,520 C1706.1,517.5 1705.5,515.7 1706.8,505 C1708.1,494.3 1711.4,472.4 1714,455.6 C1716.6,438.8 1719.5,419.5 1722.3,404 C1725,388.5 1728.1,376.6 1730.5,362.8 C1732.9,349.1 1735,331 1736.7,321.5 C1738.4,312 1738.9,307.2 1740.8,306 C1742.7,304.8 1745.6,309.7 1748,314 C1750.4,318.3 1752.8,326.3 1755,332 C1757.2,337.7 1758.4,345.2 1761.4,348.4 C1764.4,351.6 1769.9,343.8 1772.8,351.4 C1775.7,358.9 1777.3,376.3 1779,393.7 C1780.7,411.1 1782.2,437.1 1783.1,455.6 C1783.9,474.2 1783.9,494.3 1784.1,505 C1784.3,515.7 1784.1,517.5 1784.1,520 Z" fill="#fdae61"/>
<path d="M1723.5,520 C1723.5,517.3 1723.1,511.5 1723.5,504 C1723.9,496.5 1724.6,484.5 1725.7,475 C1726.8,465.5 1728.3,456.3 1730.2,447 C1732.1,437.7 1734.8,427.5 1736.9,419.1 C1739,410.7 1741.2,396.8 1743,396.8 C1744.8,396.8 1746.4,410.7 1748,419.1 C1749.6,427.5 1751,437.7 1752.5,447 C1754,456.3 1756,465.5 1757,475 C1758,484.5 1758.4,496.5 1758.7,504 C1759,511.5 1759,517.3 1759,520 Z" fill="#f46d43"/>
<path d="M1826.4,30 C1826.4,33 1826.8,41.4 1826.4,48.2 C1826.1,55 1825.7,65.5 1824.3,71 C1822.9,76.5 1820,78.8 1818.1,81.2 C1816.2,83.6 1814.2,82 1813,85.4 C1811.8,88.9 1811.6,88.9 1810.9,101.9 C1810.2,115 1809.6,135.7 1808.9,163.7 C1808.2,191.7 1806.8,242 1806.8,270 C1806.8,298 1807.9,311.3 1808.9,331.9 C1809.9,352.5 1811.6,373.1 1813,393.7 C1814.4,414.3 1815.7,437.1 1817.1,455.6 C1818.5,474.2 1820.5,494.3 1821.2,505 C1821.9,515.7 1821.2,517.5 1821.2,520 L1835.7,520 C1835.7,517.5 1834.7,515.7 1835.7,505 C1836.7,494.3 1839.9,474.2 1841.9,455.6 C1844,437.1 1845.6,414.3 1848,393.7 C1850.4,373.1 1853.9,351.7 1856.3,331.9 C1858.7,312.1 1861.1,289.3 1862.5,275 C1863.9,260.7 1864.9,254.5 1864.5,246.2 C1864.1,237.9 1861.2,231.9 1860,225 C1858.8,218.1 1857,210.8 1857,205 C1857,199.2 1858.4,194.1 1860,190 C1861.6,185.9 1864.1,183.2 1866.6,180.2 C1869.1,177.2 1872.7,175.4 1874.8,172 C1876.9,168.6 1877.3,164.4 1879,159.6 C1880.7,154.8 1883.8,149.3 1885.2,143.1 C1886.6,136.9 1887.6,131.1 1887.2,122.5 C1886.8,113.9 1883.8,101.9 1883.1,91.5 C1882.4,81.1 1883,70.2 1883,60 C1883,49.8 1883,35 1883,30 Z" fill="#e0f3f8"/>
<path d="M1850.1,30 C1850.1,33 1849.8,39.7 1850.1,48.2 C1850.4,56.7 1850.5,74.3 1852.2,81.2 C1853.9,88.1 1858,87.8 1860.4,89.5 C1862.8,91.2 1864.9,91.8 1866.6,91.5 C1868.3,91.2 1869,89.1 1870.7,87.4 C1872.4,85.7 1875.9,85.8 1876.9,81.2 C1877.9,76.6 1876.9,68.5 1876.9,60 C1876.9,51.5 1876.9,35 1876.9,30 Z" fill="#ffffbf"/>
<path d="M1837.7,94.6 C1839.2,93.9 1840.9,99.9 1841.9,108 C1842.9,116.1 1843.1,130.4 1843.9,143.1 C1844.8,155.8 1846.1,170.6 1847,184.3 C1847.9,198.1 1848.8,213 1849.1,225.6 C1849.4,238.2 1849.3,250.1 1849,260 C1848.7,269.9 1848,276.7 1847,285 C1846,293.3 1844.6,300 1843,310 C1841.4,320 1839.1,335.7 1837.5,345 C1835.9,354.3 1834.8,364.3 1833.6,366 C1832.3,367.7 1831.4,362.7 1830,355 C1828.6,347.3 1826.7,331.7 1825,320 C1823.3,308.3 1821,293.3 1820,285 C1819,276.7 1819.5,276.5 1819.2,270 C1818.9,263.5 1818.3,257 1818.1,246.2 C1817.9,235.4 1817.9,218.1 1818.1,205 C1818.3,191.9 1818.2,178.1 1819.2,167.8 C1820.2,157.5 1822.1,152.4 1824.3,143.1 C1826.5,133.8 1830.4,120.3 1832.6,112.2 C1834.8,104.1 1836.2,95.3 1837.7,94.6 Z" fill="#abd9e9"/>
<path d="M1862.5,520 C1862.5,517.5 1862.2,515.7 1862.5,505 C1862.8,494.3 1863.8,474.2 1864.5,455.6 C1865.2,437.1 1865.9,411.9 1866.6,393.7 C1867.3,375.5 1867.3,354.8 1868.7,346.3 C1870.1,337.9 1873.1,343.4 1875,343 C1876.9,342.6 1878.3,344.2 1880,344 C1881.7,343.8 1883.3,342.2 1885,342 C1886.7,341.8 1888.3,342.5 1890,343 C1891.7,343.5 1894.2,344.7 1895,345 L1895,520 Z" fill="#fee090"/>
</g>
<path d="M1638.8,48.2 C1638.8,55.8 1640.3,84.8 1638.8,93.6 C1637.2,102.4 1632.4,99.9 1629.5,100.8 C1626.6,101.7 1624,97.6 1621.2,98.8 C1618.5,100 1615,104 1613,108 C1611,112 1611.1,119.8 1608.9,122.5 C1606.7,125.2 1601.8,121.1 1599.6,124.5 C1597.4,127.9 1596.9,134.8 1595.5,143.1 C1594.1,151.3 1592.5,165.8 1591.3,174 C1590.1,182.2 1588.7,189.5 1588.2,192.6" fill="none" stroke="#6e6e6e" stroke-width="3.1" stroke-dasharray="4.4 2.6"/>
<path d="M1776.9,48.2 C1776.7,55.4 1776.6,80.8 1775.9,91.5 C1775.2,102.2 1774.2,103.6 1772.8,112.2 C1771.4,120.8 1769.1,134.5 1767.6,143.1 C1766,151.7 1764.9,162.3 1763.5,163.7 C1762.1,165.1 1761.1,155.1 1759.4,151.3 C1757.7,147.5 1755.3,143.1 1753.2,141 C1751.1,138.9 1748.9,138.3 1747,139 C1745.1,139.7 1743.6,141.1 1741.9,145.2 C1740.2,149.3 1738.6,155.5 1736.7,163.7 C1734.8,171.9 1732.6,184.3 1730.5,194.6 C1728.4,204.9 1726.4,215.3 1724.3,225.6 C1722.2,235.9 1720.1,248.3 1718.1,256.5 C1716,264.7 1714.4,262.4 1712,275 C1709.6,287.6 1706.5,312.1 1703.7,331.9 C1701,351.7 1698.2,373.1 1695.5,393.7 C1692.8,414.3 1689.6,437.1 1687.2,455.6 C1684.8,474.2 1682,496.8 1681,505" fill="none" stroke="#6e6e6e" stroke-width="3.1" stroke-dasharray="4.4 2.6"/>
<path d="M1804.7,48.2 C1804.5,67.5 1804.3,125.9 1803.7,163.7 C1803.1,201.5 1801.3,247 1801,275 C1800.7,303 1801,312.1 1801.6,331.9 C1802.2,351.7 1803.7,373.1 1804.7,393.7 C1805.7,414.3 1806.8,437.1 1807.8,455.6 C1808.8,474.2 1810.4,496.8 1810.9,505" fill="none" stroke="#6e6e6e" stroke-width="3.1" stroke-dasharray="4.4 2.6"/>
<path d="M1885.5,48.2 C1885.7,51.8 1886.2,63.8 1886.5,70 C1886.8,76.2 1887.1,82.8 1887.2,85.4" fill="none" stroke="#6e6e6e" stroke-width="3.1" stroke-dasharray="4.4 2.6"/>
<path d="M1886.2,290.6 C1885.3,289.3 1882.7,285.4 1881,283 C1879.3,280.6 1877.4,277.5 1876,276 C1874.6,274.5 1873.7,271.6 1872.8,274 C1871.9,276.4 1871.7,281 1870.7,290.6 C1869.7,300.2 1868.3,314.7 1866.6,331.9 C1864.9,349.1 1862.3,373.1 1860.4,393.7 C1858.5,414.3 1857,437.1 1855.3,455.6 C1853.6,474.2 1851,496.8 1850.1,505" fill="none" stroke="#6e6e6e" stroke-width="3.1" stroke-dasharray="4.4 2.6"/>
<path d="M1611,273 C1611.8,272.6 1613.9,271.9 1616.1,270.9 C1618.3,269.9 1621.9,270.9 1624.3,266.8 C1626.7,262.7 1629,253.1 1630.5,246.2 C1632,239.3 1632.6,231.8 1633.6,225.6 C1634.6,219.4 1635.3,213.9 1636.7,209.1 C1638.1,204.3 1640,200.8 1641.9,196.7 C1643.8,192.6 1646,187.6 1648,184.3 C1650,181 1652.5,177.1 1654.2,177.1 C1655.9,177.1 1657.4,177.9 1658.4,184.3 C1659.4,190.7 1659.7,205 1660.4,215.3 C1661.1,225.6 1661.8,235.4 1662.5,246.2 C1663.2,257 1664,270 1664.5,280 C1665,290 1665.1,288.7 1665.2,306.4 C1665.3,324.1 1665.7,353.2 1665.2,386.3 C1664.8,419.4 1663,485.2 1662.5,505" fill="none" stroke="#000" stroke-width="3.4" stroke-dasharray="4.5 2.5"/>
<path d="M1598.6,335.7 C1597.7,341.9 1595,360.6 1593.3,373 C1591.6,385.4 1589.1,404 1588.3,410.2" fill="none" stroke="#000" stroke-width="3.4" stroke-dasharray="4.5 2.5"/>
<text x="0" y="0" font-size="29.5" text-anchor="middle" dominant-baseline="central" stroke="#000" stroke-width="0.35" transform="translate(1605.5,304) rotate(-78)">-0.5</text>
<path d="M1613.3,505 C1613.5,496.3 1613.5,468.2 1614.6,452.8 C1615.7,437.4 1618.2,422.5 1619.9,412.9 C1621.6,403.3 1623.2,399.2 1625,395 C1626.8,390.8 1628.9,388.1 1630.6,387.6 C1632.3,387.1 1633.9,389.6 1635,392 C1636.1,394.4 1636.2,394.3 1637.2,402.2 C1638.2,410.1 1640.8,422.4 1641.2,439.5 C1641.7,456.6 1640.1,494.1 1639.9,505" fill="none" stroke="#000" stroke-width="3.4" stroke-dasharray="4.5 2.5"/>
<path d="M1846,139 C1845.7,133.5 1845.3,113.6 1843.9,106 C1842.5,98.4 1839.8,94.3 1837.7,93.6 C1835.6,92.9 1832.9,97.1 1831.5,101.9 C1830.1,106.7 1831.2,113.6 1829.5,122.5 C1827.8,131.4 1823.3,146.9 1821.2,155.5 C1819.1,164.1 1817.9,165.8 1817.1,174 C1816.2,182.2 1816.1,193 1816.1,205 C1816.1,217 1816.7,235.4 1817.1,246.2 C1817.5,257 1817.5,259.2 1818.5,270 C1819.5,280.8 1821.5,297.4 1823.3,311.2 C1825.1,324.9 1827.8,342.5 1829.5,352.5 C1831.2,362.5 1831.9,372.7 1833.6,371 C1835.3,369.3 1837.6,355.6 1839.8,342.2 C1842,328.8 1845.4,302.6 1847,290.6 C1848.6,278.6 1849,277.4 1849.5,270 C1850,262.6 1850.2,258.4 1850.1,246.2 C1850,234 1849.3,204.9 1849.1,196.7" fill="none" stroke="#000" stroke-width="3.4" stroke-dasharray="4.5 2.5"/>
<text x="0" y="0" font-size="29.5" text-anchor="middle" dominant-baseline="central" stroke="#000" stroke-width="0.35" transform="translate(1844,167.5) rotate(90)">-0.5</text>
<path d="M1705.8,505 C1706.3,500.9 1707.6,490.3 1708.9,480.6 C1710.2,470.9 1711.7,458.2 1713.4,447 C1715.1,435.8 1717.1,424.7 1719,413.5 C1720.9,402.3 1722.7,390.2 1724.6,380 C1726.5,369.8 1728.5,365.7 1730.5,352.5 C1732.5,339.3 1735.3,310.5 1736.7,300.9 C1738.1,291.3 1737.4,295.9 1738.8,294.7 C1740.2,293.5 1743,293.3 1745,293.7 C1747,294.1 1750.1,296.3 1751.1,296.8" fill="none" stroke="#000" stroke-width="3"/>
<path d="M1772.8,325.7 C1773.3,326.7 1774.9,327.4 1775.9,331.9 C1776.9,336.4 1778,342.2 1779,352.5 C1780,362.8 1781.2,376.5 1782.1,393.7 C1782.9,410.9 1783.8,437.1 1784.1,455.6 C1784.4,474.2 1784.1,496.8 1784.1,505" fill="none" stroke="#000" stroke-width="3"/>
<text x="0" y="0" font-size="29.5" text-anchor="middle" dominant-baseline="central" stroke="#000" stroke-width="0.35" transform="translate(1759,318) rotate(64)">0.5</text>
<path d="M1725.1,505 C1725.3,501.9 1725.5,493 1726.3,486.1 C1727,479.2 1728.4,471.1 1729.6,463.8 C1730.8,456.6 1732.1,448.8 1733.5,442.6 C1734.9,436.5 1736.5,430.3 1738,426.9 C1739.5,423.4 1741.4,421.9 1742.5,421.9 C1743.6,421.9 1744,422.7 1744.7,426.9 C1745.4,431.1 1746.2,439 1746.9,447 C1747.6,455 1748.2,465.3 1748.6,475 C1749,484.7 1749.1,500 1749.2,505" fill="none" stroke="#000" stroke-width="3"/>
<path d="M1489.1,42.9 h5 M1988.3,42.9 h-5" stroke="#000" stroke-width="1.3" fill="none"/>
<text x="0" y="0" transform="translate(1481.6,56.5) scale(0.99,1.045)" font-size="30" text-anchor="end" stroke="#000" stroke-width="0.4">0</text>
<path d="M1489.1,135.4 h5 M1988.3,135.4 h-5" stroke="#000" stroke-width="1.3" fill="none"/>
<text x="0" y="0" transform="translate(1481.6,149) scale(0.99,1.045)" font-size="30" text-anchor="end" stroke="#000" stroke-width="0.4">100</text>
<path d="M1489.1,227.9 h5 M1988.3,227.9 h-5" stroke="#000" stroke-width="1.3" fill="none"/>
<text x="0" y="0" transform="translate(1481.6,241.5) scale(0.99,1.045)" font-size="30" text-anchor="end" stroke="#000" stroke-width="0.4">200</text>
<path d="M1489.1,320.5 h5 M1988.3,320.5 h-5" stroke="#000" stroke-width="1.3" fill="none"/>
<text x="0" y="0" transform="translate(1481.6,334.1) scale(0.99,1.045)" font-size="30" text-anchor="end" stroke="#000" stroke-width="0.4">300</text>
<path d="M1489.1,413 h5 M1988.3,413 h-5" stroke="#000" stroke-width="1.3" fill="none"/>
<text x="0" y="0" transform="translate(1481.6,426.6) scale(0.99,1.045)" font-size="30" text-anchor="end" stroke="#000" stroke-width="0.4">400</text>
<path d="M1489.1,505.5 h5 M1988.3,505.5 h-5" stroke="#000" stroke-width="1.3" fill="none"/>
<text x="0" y="0" transform="translate(1481.6,519.1) scale(0.99,1.045)" font-size="30" text-anchor="end" stroke="#000" stroke-width="0.4">500</text>
<path d="M1489.1,505.5 v-5 M1489.1,42.9 v5" stroke="#000" stroke-width="1.3" fill="none"/>
<text x="0" y="0" transform="translate(1483.1,546.2) scale(0.99,1.045)" font-size="30" text-anchor="middle" stroke="#000" stroke-width="0.4">-5</text>
<path d="M1738.7,505.5 v-5 M1738.7,42.9 v5" stroke="#000" stroke-width="1.3" fill="none"/>
<text x="0" y="0" transform="translate(1738.7,546.2) scale(0.99,1.045)" font-size="30" text-anchor="middle" stroke="#000" stroke-width="0.4">0</text>
<path d="M1988.3,505.5 v-5 M1988.3,42.9 v5" stroke="#000" stroke-width="1.3" fill="none"/>
<text x="0" y="0" transform="translate(1988.3,546.2) scale(0.99,1.045)" font-size="30" text-anchor="middle" stroke="#000" stroke-width="0.4">5</text>
<rect x="1489.1" y="42.9" width="499.2" height="462.6" fill="none" stroke="#111" stroke-width="1.45"/>
<text x="0" y="0" transform="translate(1737.5,584.5) scale(1.0,1.07)" font-size="33.5" text-anchor="middle" stroke="#000" stroke-width="0.4">Distance(<tspan font-size="27" dy="-1.5">°</tspan><tspan dy="1.5">)</tspan></text>
<text x="0" y="0" transform="translate(1504.5,98.2) scale(1.0,1.04)" font-size="32" text-anchor="start" font-weight="bold" stroke="#000" stroke-width="0.2">c</text>
<rect x="2010.4" y="42.9" width="32.6" height="42.9" fill="#3d001f"/>
<rect x="2010.4" y="85.2" width="32.6" height="42.9" fill="#d73027"/>
<rect x="2010.4" y="127.4" width="32.6" height="42.9" fill="#f46d43"/>
<rect x="2010.4" y="169.7" width="32.6" height="42.9" fill="#fdae61"/>
<rect x="2010.4" y="212" width="32.6" height="42.9" fill="#fee090"/>
<rect x="2010.4" y="254.3" width="32.6" height="42.9" fill="#ffffbf"/>
<rect x="2010.4" y="296.5" width="32.6" height="42.9" fill="#e0f3f8"/>
<rect x="2010.4" y="338.8" width="32.6" height="42.9" fill="#abd9e9"/>
<rect x="2010.4" y="381.1" width="32.6" height="42.9" fill="#74add1"/>
<rect x="2010.4" y="423.4" width="32.6" height="42.9" fill="#4575b4"/>
<rect x="2010.4" y="465.6" width="32.6" height="42.9" fill="#313695"/>
<text x="0" y="0" transform="translate(2049,57) scale(0.99,1.045)" font-size="30" text-anchor="start" stroke="#000" stroke-width="0.4">2</text>
<path d="M2010.4,159.2 h4 M2043,159.2 h-4" stroke="#000" stroke-width="1.3" fill="none"/>
<text x="0" y="0" transform="translate(2049,173.2) scale(0.99,1.045)" font-size="30" text-anchor="start" stroke="#000" stroke-width="0.4">1</text>
<path d="M2010.4,275.4 h4 M2043,275.4 h-4" stroke="#000" stroke-width="1.3" fill="none"/>
<text x="0" y="0" transform="translate(2049,289.5) scale(0.99,1.045)" font-size="30" text-anchor="start" stroke="#000" stroke-width="0.4">0</text>
<path d="M2010.4,391.6 h4 M2043,391.6 h-4" stroke="#000" stroke-width="1.3" fill="none"/>
<text x="0" y="0" transform="translate(2049,405.8) scale(0.99,1.045)" font-size="30" text-anchor="start" stroke="#000" stroke-width="0.4">-1</text>
<text x="0" y="0" transform="translate(2049,522) scale(0.99,1.045)" font-size="30" text-anchor="start" stroke="#000" stroke-width="0.4">-2</text>
<rect x="2010.4" y="42.9" width="32.6" height="465" fill="none" stroke="#111" stroke-width="1.45"/>
<text x="0" y="0" transform="translate(2033.2,24.8) scale(0.955,1.06)" font-size="30" text-anchor="middle" stroke="#000" stroke-width="0.4">(°C/°)</text>
<clipPath id="clip01"><rect x="198" y="613.2" width="300.5" height="462.1"/></clipPath>
<g clip-path="url(#clip01)">
<rect x="198.0" y="613" width="300.5" height="463" fill="#e0f3f8"/>
<path d="M304.4,600 C304.4,603 304.6,606 304.4,618 C304.2,630 304.6,657.8 303.4,671.9 C302.2,686 299.3,694.2 297.2,702.8 C295.1,711.4 293.4,716.5 291,723.4 C288.6,730.3 285.2,738.1 282.8,744 C280.4,749.9 279,752.6 276.6,758.5 C274.2,764.4 270.8,772.6 268.4,779.1 C266,785.6 265.3,795.9 262.2,797.6 C259.1,799.3 253.2,791.5 249.8,789.4 C246.4,787.3 243.6,785 241.5,785.3 C239.4,785.6 239.1,786.2 237.4,791.4 C235.7,796.5 233.3,806.4 231.2,816.2 C229.1,826 227.4,839.2 225,850 C222.6,860.8 218.9,869.1 216.8,881.2 C214.8,893.3 213.9,908.8 212.7,922.5 C211.5,936.2 210.5,946.5 209.6,963.7 C208.7,980.9 207.8,1007.4 207.5,1025.6 C207.2,1043.8 207.5,1062.3 207.5,1073 C207.5,1083.7 207.5,1087.2 207.5,1090 L150,1090 L150,600 Z" fill="#ffffbf"/>
<path d="M433.3,1090 C433.3,1087.2 431.6,1083.7 433.3,1073 C435,1062.3 440.9,1040.4 443.6,1025.6 C446.4,1010.8 448.2,995.6 449.8,984.3 C451.4,972.9 451.5,955.8 452.9,957.5 C454.3,959.2 455.4,983.2 458,994.6 C460.6,1006 464.9,1015.3 468.4,1025.6 C471.8,1035.9 476.6,1048.6 478.7,1056.5 C480.8,1064.4 480.3,1067.4 480.7,1073 C481.1,1078.6 480.9,1087.2 481,1090 Z" fill="#ffffbf"/>
<path d="M365.3,600 C365.3,602.3 365.5,605.5 365.3,614 C365.1,622.5 366.3,640.5 364.2,651.2 C362.1,661.9 356.5,671.8 352.9,678 C349.3,684.2 346.4,685.6 342.6,688.4 C338.8,691.1 333.6,692.8 330.2,694.5 C326.8,696.2 324.1,695.6 322,698.7 C319.9,701.8 319.2,705.6 317.8,713.1 C316.4,720.6 315.1,733.7 313.7,744 C312.3,754.3 311.2,764.7 309.6,775 C308.1,785.3 306.1,795.6 304.4,805.9 C302.7,816.2 300.5,829.4 299.3,836.8 C298.1,844.1 298.6,839.1 297.2,850 C295.8,860.9 292.9,882.9 291,901.9 C289.1,920.9 287.3,943.1 285.9,963.7 C284.5,984.3 283.5,1007.4 282.8,1025.6 C282.1,1043.8 282,1062.3 281.8,1073 C281.6,1083.7 281.6,1087.2 281.5,1090 L402.4,1090 C402.4,1087.2 401.9,1083.7 402.4,1073 C402.9,1062.3 404.3,1043.8 405.5,1025.6 C406.7,1007.4 408.2,984.3 409.6,963.7 C411,943.1 412.5,920.9 413.7,901.9 C414.9,882.9 416.1,867.7 416.8,850 C417.5,832.3 417.5,815 417.8,795.6 C418.1,776.2 418.5,754.3 418.9,733.7 C419.2,713.1 419.6,691.9 419.9,671.9 C420.2,651.9 420.7,626 420.9,614 C421.1,602 420.9,602.3 420.9,600 Z" fill="#abd9e9"/>
<path d="M464.2,600 C464.2,602.3 463.8,602 464.2,614 C464.6,626 465.3,655.4 466.3,671.9 C467.3,688.4 469,699.4 470.4,713.1 C471.8,726.8 473.1,740.5 474.5,754.3 C475.9,768 477.3,779.6 478.7,795.6 C480.1,811.6 481.1,835.7 482.8,850 C484.5,864.3 487.3,874.3 489,881.2 C490.7,888.1 491.7,886.3 493.1,891.5 C494.5,896.7 495.2,906.6 497.2,912.2 C499.2,917.8 503.7,922.9 505,925 L505,600 Z" fill="#abd9e9"/>
<path d="M493.1,600 C493.1,602.3 492.9,603.8 493.1,614 C493.3,624.2 493.4,646.7 494.1,661.5 C494.8,676.3 496.2,693 497.2,702.8 C498.2,712.5 499.5,717.1 500,720 L505,720 L505,600 Z" fill="#74add1"/>
<path d="M306.5,1090 C306.5,1087.2 306.9,1087.2 306.5,1073 C306.1,1058.8 304.2,1026.7 304.4,1005 C304.6,983.4 305.9,963.7 307.5,943.1 C309.1,922.5 311.3,896.7 313.7,881.2 C316.1,865.7 319.6,859.1 322,850 C324.4,840.9 325.4,835.6 328.1,826.5 C330.9,817.4 335.1,805.9 338.5,795.6 C341.9,785.3 345.4,774.9 348.8,764.6 C352.2,754.3 356,744 359.1,733.7 C362.2,723.4 364.6,713.1 367.3,702.8 C370.1,692.5 373.2,678.6 375.6,671.9 C378,665.2 380.1,662.6 381.8,662.6 C383.5,662.6 384.4,666.9 385.9,671.9 C387.4,676.9 389.6,685.6 391,692.5 C392.4,699.4 393.2,702.8 394.1,713.1 C395,723.4 395.7,740.5 396.2,754.3 C396.7,768 396.9,779.6 397.2,795.6 C397.5,811.6 398.4,832.3 398.2,850 C398,867.7 397.4,882.9 396.2,901.9 C395,920.9 393.1,943.1 391,963.7 C388.9,984.3 386.2,1007.4 383.8,1025.6 C381.4,1043.8 377.8,1062.3 376.6,1073 C375.4,1083.7 376.5,1087.2 376.5,1090 Z" fill="#74add1"/>
<path d="M363.2,844.1 C364.9,839 366.1,844.1 367.3,850.3 C368.5,856.5 370,869.2 370.4,881.2 C370.8,893.2 370.1,908.8 369.4,922.5 C368.7,936.2 367.7,951.7 366.3,963.7 C364.9,975.7 363.2,987.7 361.1,994.6 C359,1001.5 356.1,1006.7 353.9,1005 C351.7,1003.3 348.5,991.2 347.7,984.3 C346.9,977.4 347.9,974 348.8,963.7 C349.7,953.4 351.5,936.2 352.9,922.5 C354.3,908.8 355.3,894.3 357,881.2 C358.7,868.1 361.5,849.2 363.2,844.1 Z" fill="#4575b4"/>
</g>
<path d="M199.3,658.5 C200.2,659.4 202.7,660 204.4,663.6 C206.1,667.2 208.6,671.9 209.6,680.1 C210.6,688.4 210.8,700.7 210.6,713.1 C210.4,725.5 209.3,742.3 208.6,754.3 C207.9,766.3 207.2,777.4 206.5,785.3 C205.8,793.2 205.6,797.3 204.4,801.8 C203.2,806.3 200.2,810.4 199.3,812.1" fill="none" stroke="#6e6e6e" stroke-width="3.1" stroke-dasharray="4.4 2.6"/>
<path d="M352.9,613.3 C352.7,616.2 352.9,624.3 351.9,630.6 C350.9,636.9 348.9,646.9 346.7,651.2 C344.5,655.5 341.2,655 338.5,656.4 C335.8,657.8 332.9,657.6 330.2,659.5 C327.4,661.4 324.4,663.9 322,667.7 C319.6,671.5 317.9,676.4 315.8,682.2 C313.7,688.1 311.7,692.5 309.6,702.8 C307.5,713.1 305.5,730.2 303.4,744 C301.3,757.8 299.3,773.3 297.2,785.3 C295.1,797.3 292.9,805.4 291,816.2 C289.1,827 286.9,842.7 285.9,850 C284.9,857.3 285.3,855.8 284.8,860 C284.3,864.2 283.1,872.5 282.8,875" fill="none" stroke="#000" stroke-width="3.4" stroke-dasharray="4.5 2.5"/>
<path d="M279.7,907 C279.2,911.3 277.8,924.4 276.6,932.8 C275.4,941.2 274.2,950.6 272.5,957.5 C270.8,964.4 268.7,969.9 266.3,974 C263.9,978.1 259.4,973.7 258,982.3 C256.6,990.9 257.8,1010.1 258,1025.6 C258.2,1041 258.9,1066.8 259.1,1075" fill="none" stroke="#000" stroke-width="3.4" stroke-dasharray="4.5 2.5"/>
<text x="0" y="0" font-size="29.5" text-anchor="middle" dominant-baseline="central" stroke="#000" stroke-width="0.35" transform="translate(285.5,891) rotate(-88)">-1</text>
<path d="M298.2,1073 C298.2,1061.7 297.8,1026.7 298.2,1005 C298.6,983.4 299.3,963.7 300.3,943.1 C301.3,922.5 302.8,896.7 304.4,881.2 C305.9,865.7 308.2,859.1 309.6,850 C311,840.9 311.5,834.9 312.7,826.5 C313.9,818.1 315.2,805.6 316.8,799.7 C318.4,793.9 319.8,793.8 322,791.4 C324.2,789 327.1,788.7 330.2,785.3 C333.3,781.9 336.7,779.4 340.5,770.8 C344.3,762.2 349.1,746.8 352.9,733.7 C356.7,720.7 360.4,704.5 363.2,692.5 C365.9,680.5 367.3,668.7 369.4,661.5 C371.5,654.3 373.4,652.3 375.6,649.2 C377.8,646.1 380.8,642 382.8,643 C384.9,644 386.3,651.6 387.9,655.4 C389.5,659.2 391.7,664 392.5,665.7" fill="none" stroke="#000" stroke-width="3.4" stroke-dasharray="4.5 2.5"/>
<path d="M404.4,698.7 C404.8,704.5 406.1,717.6 406.5,733.7 C406.9,749.9 406.9,776.2 406.5,795.6 C406.1,815 405.1,835.7 404.4,850 C403.7,864.3 403.6,865.7 402.4,881.2 C401.2,896.7 399.3,922.5 397.2,943.1 C395.1,963.7 392.4,983 390,1005 C387.6,1027 384,1063.3 382.8,1075" fill="none" stroke="#000" stroke-width="3.4" stroke-dasharray="4.5 2.5"/>
<text x="0" y="0" font-size="29.5" text-anchor="middle" dominant-baseline="central" stroke="#000" stroke-width="0.35" transform="translate(396,682) rotate(72)">-2</text>
<path d="M372.3,776.5 L372.8,782" fill="none" stroke="#000" stroke-width="3.4" stroke-dasharray="4.5 2.5"/>
<path d="M361.1,808 C360.6,812.8 358.7,829.8 358,836.8 C357.3,843.8 358.2,840.9 357,850 C355.8,859.1 352.9,877.7 350.8,891.5 C348.7,905.3 346.8,918 344.6,932.8 C342.4,947.6 337.4,966.5 337.4,980.2 C337.4,994 342,1004.3 344.6,1015.3 C347.2,1026.3 350.1,1044.5 352.9,1046.2 C355.6,1047.9 358.7,1034.2 361.1,1025.6 C363.5,1017 365.6,1008.4 367.3,994.6 C369,980.9 370,960.3 371.4,943.1 C372.8,925.9 374.7,907 375.6,891.5 C376.5,876 376.3,862.9 376.6,850 C376.9,837.1 377.4,820.1 377.6,814.1" fill="none" stroke="#000" stroke-width="3.4" stroke-dasharray="4.5 2.5"/>
<text x="0" y="0" font-size="29.5" text-anchor="middle" dominant-baseline="central" stroke="#000" stroke-width="0.35" transform="translate(370,796) rotate(80)">-3</text>
<path d="M409.6,1075 C410.6,1066.8 413.9,1044.1 415.8,1025.6 C417.7,1007 419.3,983.6 420.9,963.7 C422.4,943.8 424.4,915.6 425.1,906" fill="none" stroke="#000" stroke-width="3.4" stroke-dasharray="4.5 2.5"/>
<path d="M426.1,873 C426.3,869.2 426.9,862.9 427.1,850 C427.3,837.1 426.9,815 427.1,795.6 C427.3,776.2 427.8,752.6 428.1,733.7 C428.5,714.8 428.5,694.9 429.2,682.2 C429.9,669.5 430.6,663.6 432.3,657.4 C434,651.2 437.1,648.7 439.5,645.1 C441.9,641.5 444.3,635.1 446.7,635.8 C449.1,636.5 452,645.2 453.9,649.2 C455.8,653.2 456.6,652.3 458,659.5 C459.4,666.7 461,680.1 462.2,692.5 C463.4,704.9 464.4,720 465.3,733.7 C466.2,747.5 466.6,761.2 467.3,775 C468,788.8 468.9,803.7 469.4,816.2 C469.9,828.7 469.7,839.2 470.4,850 C471.1,860.8 472.1,869.1 473.5,881.2 C474.9,893.3 477.1,912.2 478.7,922.5 C480.2,932.8 480.8,937.3 482.8,943.1 C484.9,948.9 489.1,953.4 491,957.5 C492.9,961.6 493.1,963.7 494.1,967.8 C495.1,971.9 496.7,979.9 497.2,982.3" fill="none" stroke="#000" stroke-width="3.4" stroke-dasharray="4.5 2.5"/>
<text x="0" y="0" font-size="29.5" text-anchor="middle" dominant-baseline="central" stroke="#000" stroke-width="0.35" transform="translate(425,891) rotate(-88)">-1</text>
<path d="M485.9,613.3 C485.7,619.6 484.6,638 484.8,651.2 C485,664.4 485.7,680.5 486.9,692.5 C488.1,704.5 490.6,713.1 492,723.4 C493.4,733.7 494.3,746.4 495.2,754.3 C496.1,762.2 496.9,768 497.2,770.8" fill="none" stroke="#000" stroke-width="3.4" stroke-dasharray="4.5 2.5"/>
<path d="M98.7,612.7 h5 M597.9,612.7 h-5" stroke="#000" stroke-width="1.3" fill="none"/>
<text x="0" y="0" transform="translate(91.2,626.3) scale(0.99,1.045)" font-size="30" text-anchor="end" stroke="#000" stroke-width="0.4">0</text>
<path d="M98.7,705.2 h5 M597.9,705.2 h-5" stroke="#000" stroke-width="1.3" fill="none"/>
<text x="0" y="0" transform="translate(91.2,718.8) scale(0.99,1.045)" font-size="30" text-anchor="end" stroke="#000" stroke-width="0.4">100</text>
<path d="M98.7,797.7 h5 M597.9,797.7 h-5" stroke="#000" stroke-width="1.3" fill="none"/>
<text x="0" y="0" transform="translate(91.2,811.3) scale(0.99,1.045)" font-size="30" text-anchor="end" stroke="#000" stroke-width="0.4">200</text>
<path d="M98.7,890.3 h5 M597.9,890.3 h-5" stroke="#000" stroke-width="1.3" fill="none"/>
<text x="0" y="0" transform="translate(91.2,903.9) scale(0.99,1.045)" font-size="30" text-anchor="end" stroke="#000" stroke-width="0.4">300</text>
<path d="M98.7,982.8 h5 M597.9,982.8 h-5" stroke="#000" stroke-width="1.3" fill="none"/>
<text x="0" y="0" transform="translate(91.2,996.4) scale(0.99,1.045)" font-size="30" text-anchor="end" stroke="#000" stroke-width="0.4">400</text>
<path d="M98.7,1075.3 h5 M597.9,1075.3 h-5" stroke="#000" stroke-width="1.3" fill="none"/>
<text x="0" y="0" transform="translate(91.2,1088.9) scale(0.99,1.045)" font-size="30" text-anchor="end" stroke="#000" stroke-width="0.4">500</text>
<path d="M98.7,1075.3 v-5 M98.7,612.7 v5" stroke="#000" stroke-width="1.3" fill="none"/>
<text x="0" y="0" transform="translate(92.7,1116) scale(0.99,1.045)" font-size="30" text-anchor="middle" stroke="#000" stroke-width="0.4">-5</text>
<path d="M348.3,1075.3 v-5 M348.3,612.7 v5" stroke="#000" stroke-width="1.3" fill="none"/>
<text x="0" y="0" transform="translate(348.3,1116) scale(0.99,1.045)" font-size="30" text-anchor="middle" stroke="#000" stroke-width="0.4">0</text>
<path d="M597.9,1075.3 v-5 M597.9,612.7 v5" stroke="#000" stroke-width="1.3" fill="none"/>
<text x="0" y="0" transform="translate(597.9,1116) scale(0.99,1.045)" font-size="30" text-anchor="middle" stroke="#000" stroke-width="0.4">5</text>
<rect x="98.7" y="612.7" width="499.2" height="462.6" fill="none" stroke="#111" stroke-width="1.45"/>
<text x="0" y="0" transform="translate(347.1,1154.3) scale(1.0,1.07)" font-size="33.5" text-anchor="middle" stroke="#000" stroke-width="0.4">Distance(<tspan font-size="27" dy="-1.5">°</tspan><tspan dy="1.5">)</tspan></text>
<text x="0" y="0" font-size="33.5" text-anchor="middle" stroke="#000" stroke-width="0.4" transform="translate(26.3,847) rotate(-90) scale(0.98,1.07)">Depth (m)</text>
<text x="0" y="0" transform="translate(114.1,668) scale(1.0,1.04)" font-size="32" text-anchor="start" font-weight="bold" stroke="#000" stroke-width="0.2">d</text>
<rect x="620" y="612.7" width="32.6" height="42.9" fill="#3d001f"/>
<rect x="620" y="655" width="32.6" height="42.9" fill="#d73027"/>
<rect x="620" y="697.2" width="32.6" height="42.9" fill="#f46d43"/>
<rect x="620" y="739.5" width="32.6" height="42.9" fill="#fdae61"/>
<rect x="620" y="781.8" width="32.6" height="42.9" fill="#fee090"/>
<rect x="620" y="824.1" width="32.6" height="42.9" fill="#ffffbf"/>
<rect x="620" y="866.3" width="32.6" height="42.9" fill="#e0f3f8"/>
<rect x="620" y="908.6" width="32.6" height="42.9" fill="#abd9e9"/>
<rect x="620" y="950.9" width="32.6" height="42.9" fill="#74add1"/>
<rect x="620" y="993.2" width="32.6" height="42.9" fill="#4575b4"/>
<rect x="620" y="1035.4" width="32.6" height="42.9" fill="#313695"/>
<text x="0" y="0" transform="translate(658.6,626.8) scale(0.99,1.045)" font-size="30" text-anchor="start" stroke="#000" stroke-width="0.4">5</text>
<path d="M620,705.7 h4 M652.6,705.7 h-4" stroke="#000" stroke-width="1.3" fill="none"/>
<text x="0" y="0" transform="translate(658.6,719.8) scale(0.99,1.045)" font-size="30" text-anchor="start" stroke="#000" stroke-width="0.4">3</text>
<path d="M620,798.7 h4 M652.6,798.7 h-4" stroke="#000" stroke-width="1.3" fill="none"/>
<text x="0" y="0" transform="translate(658.6,812.8) scale(0.99,1.045)" font-size="30" text-anchor="start" stroke="#000" stroke-width="0.4">1</text>
<path d="M620,891.7 h4 M652.6,891.7 h-4" stroke="#000" stroke-width="1.3" fill="none"/>
<text x="0" y="0" transform="translate(658.6,905.8) scale(0.99,1.045)" font-size="30" text-anchor="start" stroke="#000" stroke-width="0.4">-1</text>
<path d="M620,984.7 h4 M652.6,984.7 h-4" stroke="#000" stroke-width="1.3" fill="none"/>
<text x="0" y="0" transform="translate(658.6,998.8) scale(0.99,1.045)" font-size="30" text-anchor="start" stroke="#000" stroke-width="0.4">-3</text>
<text x="0" y="0" transform="translate(658.6,1091.8) scale(0.99,1.045)" font-size="30" text-anchor="start" stroke="#000" stroke-width="0.4">-5</text>
<rect x="620" y="612.7" width="32.6" height="465" fill="none" stroke="#111" stroke-width="1.45"/>
<clipPath id="clip11"><rect x="893.2" y="613.2" width="300.3" height="462.1"/></clipPath>
<g clip-path="url(#clip11)">
<rect x="893.2" y="613" width="300.29999999999995" height="463" fill="#e0f3f8"/>
<path d="M1008.7,600 C1008.7,602.3 1009.4,607.2 1008.7,614 C1008,620.8 1006.7,631.2 1004.6,640.9 C1002.5,650.5 999,661.6 996.3,671.9 C993.5,682.2 991.2,692.5 988.1,702.8 C985,713.1 981.2,723.4 977.8,733.7 C974.4,744 970.9,755 967.5,764.6 C964.1,774.2 961,782.8 957.2,791.4 C953.4,800 948.6,808.6 944.8,816.2 C941,823.8 937.2,831.2 934.5,836.8 C931.8,842.4 930.4,846 928.3,850 C926.2,854 923.8,853.7 922.1,860.6 C920.4,867.5 919.7,880.5 918,891.5 C916.3,902.5 914.2,917.6 911.8,926.6 C909.4,935.6 906.4,941.8 903.6,945.2 C900.9,948.6 898.4,946.7 895.3,947.2 C892.2,947.7 886.7,947.9 885,948 L860,948 L860,600 Z" fill="#ffffbf"/>
<path d="M1080.9,600 C1080.9,602.3 1081.1,608.9 1080.9,614 C1080.7,619.1 1081.5,626.5 1079.8,630.6 C1078.1,634.8 1073.8,637.5 1070.6,638.9 C1067.3,640.3 1063,636.8 1060.3,638.9 C1057.5,641 1056.5,646.4 1054.1,651.2 C1051.7,656 1048.5,662.5 1045.8,667.7 C1043,672.9 1040.3,676.4 1037.6,682.2 C1034.8,688.1 1032,694.2 1029.3,702.8 C1026.5,711.4 1023.9,723.4 1021.1,733.7 C1018.4,744 1015.5,754.3 1012.8,764.6 C1010,774.9 1007,785.3 1004.6,795.6 C1002.2,805.9 1000.1,819.1 998.4,826.5 C996.7,833.9 996.4,827.4 994.3,840 C992.2,852.6 988.8,883 986,901.9 C983.2,920.8 979.8,939.7 977.8,953.4 C975.8,967.1 974.7,972.3 973.7,984.3 C972.7,996.3 972.3,1010.8 971.6,1025.6 C970.9,1040.4 969.9,1062.3 969.5,1073 C969.1,1083.7 969.5,1087.2 969.5,1090 L1095.3,1090 C1095.3,1087.2 1094.3,1083.7 1095.3,1073 C1096.3,1062.3 1099.3,1043.8 1101.5,1025.6 C1103.7,1007.4 1106.3,984.3 1108.7,963.7 C1111.1,943.1 1113.7,921.7 1115.9,901.9 C1118.1,882.1 1121.1,859.3 1122.1,845 C1123.1,830.7 1122.3,827.9 1122.1,816.2 C1121.9,804.5 1121.4,788.8 1121.1,775 C1120.8,761.2 1120.6,747.5 1120.1,733.7 C1119.6,720 1118.9,706.2 1118,692.5 C1117.1,678.8 1115.6,664.3 1114.9,651.2 C1114.2,638.1 1114.1,622.5 1113.9,614 C1113.7,605.5 1113.9,602.3 1113.9,600 Z" fill="#abd9e9"/>
<path d="M1163.4,600 C1163.4,602.3 1163.1,602 1163.4,614 C1163.7,626 1164,651.9 1165.4,671.9 C1166.8,691.9 1169.5,713.1 1171.6,733.7 C1173.7,754.3 1176.5,777.9 1177.8,795.6 C1179.1,813.3 1178.5,825.7 1179.5,840 C1180.5,854.3 1181.9,868.1 1184,881.2 C1186.1,894.3 1188.7,909.4 1192.2,918.4 C1195.7,927.4 1202.9,932.2 1205,935 L1205,600 Z" fill="#abd9e9"/>
<path d="M1184,600 C1184,602.3 1183.8,605.5 1184,614 C1184.2,622.5 1184.3,638.1 1185,651.2 C1185.7,664.3 1186.9,678.8 1188.1,692.5 C1189.3,706.2 1190.2,722.5 1192.2,733.7 C1194.2,745 1198.7,755.6 1200,760 L1205,760 L1205,600 Z" fill="#74add1"/>
<path d="M1009.7,1090 C1009.7,1087.2 1010,1083.7 1009.7,1073 C1009.4,1062.3 1008.4,1040.4 1007.7,1025.6 C1007,1010.8 1005.1,999.8 1005.6,984.3 C1006.1,968.8 1008.9,950 1010.8,932.8 C1012.7,915.6 1014.6,895.8 1017,881.2 C1019.4,866.6 1023.5,851.9 1025.2,845 C1026.9,838.1 1025.2,844.8 1027.3,840 C1029.4,835.2 1034.2,825.3 1037.6,816.2 C1041,807.1 1044.5,794.9 1047.9,785.3 C1051.3,775.7 1055.3,764.9 1058.2,758.5 C1061.1,752.1 1063.7,746.9 1065.4,747.1 C1067.1,747.4 1067.3,753.6 1068.5,760 C1069.7,766.4 1071,782.8 1072.6,785.3 C1074.1,787.8 1075.2,778.1 1077.8,775 C1080.4,771.9 1086,763.3 1088.1,766.7 C1090.2,770.1 1089.7,783.4 1090.2,795.6 C1090.7,807.8 1091.6,825.7 1091.2,840 C1090.8,854.3 1089.3,864 1088.1,881.2 C1086.9,898.4 1085.7,922.5 1084,943.1 C1082.3,963.7 1080.2,983.4 1077.8,1005 C1075.4,1026.7 1070.9,1058.8 1069.5,1073 C1068.1,1087.2 1069.5,1087.2 1069.5,1090 Z" fill="#74add1"/>
</g>
<path d="M893.5,649.5 C893.8,649.5 893.3,648.9 895.3,649.2 C897.3,649.5 902.9,650.5 905.6,651.2 C908.4,651.9 910.2,651.6 911.8,653.3 C913.3,655 914.2,655 914.9,661.5 C915.6,668 916.1,682.2 915.9,692.5 C915.7,702.8 915.1,713.8 913.9,723.4 C912.7,733 910.4,743.7 908.7,750.2 C907,756.7 905.5,759.7 903.6,762.6 C901.7,765.5 899.1,766.7 897.4,767.7 C895.7,768.7 894.1,768.4 893.5,768.5" fill="none" stroke="#6e6e6e" stroke-width="3.1" stroke-dasharray="4.4 2.6"/>
<path d="M1046.9,613.3 C1046.7,616.2 1046.7,626 1045.8,630.6 C1044.9,635.2 1043.8,637.5 1041.7,640.9 C1039.7,644.3 1036.2,647.1 1033.5,651.2 C1030.8,655.3 1028,660.5 1025.2,665.7 C1022.5,670.9 1019.8,676 1017,682.2 C1014.2,688.4 1011.1,694.2 1008.7,702.8 C1006.3,711.4 1004.6,723.4 1002.5,733.7 C1000.4,744 998.3,754.3 996.3,764.6 C994.2,774.9 992.2,785.3 990.2,795.6 C988.2,805.9 985.5,818.3 984,826.5 C982.5,834.7 982,837.6 981,845 C980,852.4 979,863.5 977.8,870.9 C976.6,878.3 974.4,886.4 973.7,889.5" fill="none" stroke="#000" stroke-width="3.4" stroke-dasharray="4.5 2.5"/>
<path d="M963.4,922.5 C962.4,925.9 959.3,934.5 957.2,943.1 C955.1,951.7 952.5,963.7 951,974 C949.5,984.3 948.8,994.7 947.9,1005 C947,1015.3 946.5,1024.2 945.8,1035.9 C945.1,1047.6 944.1,1068.5 943.8,1075" fill="none" stroke="#000" stroke-width="3.4" stroke-dasharray="4.5 2.5"/>
<text x="0" y="0" font-size="29.5" text-anchor="middle" dominant-baseline="central" stroke="#000" stroke-width="0.35" transform="translate(970.5,907) rotate(-80)">-1</text>
<path d="M1101.5,686.3 C1101.2,683.9 1100.6,676.2 1099.4,671.9 C1098.2,667.6 1096,661.5 1094.3,660.5 C1092.6,659.5 1091,662.8 1089.1,665.7 C1087.2,668.6 1084.6,673.5 1082.9,678 C1081.2,682.5 1080.5,688.4 1078.8,692.5 C1077.1,696.6 1075,701.6 1072.6,702.8 C1070.2,704 1066.6,699.4 1064.4,699.7 C1062.2,700 1060.9,700.5 1059.2,704.8 C1057.5,709.1 1056,720.3 1054.1,725.5 C1052.2,730.7 1050,732.7 1047.9,735.8 C1045.8,738.9 1043.8,739.2 1041.7,744 C1039.6,748.8 1037.9,756 1035.5,764.6 C1033.1,773.2 1030,785.3 1027.3,795.6 C1024.5,805.9 1021.1,819.1 1019,826.5 C1016.9,833.9 1016.6,830.9 1014.9,840 C1013.2,849.1 1011.1,865.7 1008.7,881.2 C1006.3,896.7 1002.7,915.6 1000.5,932.8 C998.3,950 996.3,960.6 995.3,984.3 C994.3,1008 994.5,1059.9 994.3,1075" fill="none" stroke="#000" stroke-width="3.4" stroke-dasharray="4.5 2.5"/>
<path d="M1101.5,721.3 C1101.5,730.2 1101.5,755.2 1101.5,775 C1101.5,794.8 1101.8,822.3 1101.5,840 C1101.2,857.7 1100.6,865.7 1099.4,881.2 C1098.2,896.7 1096.2,915.6 1094.3,932.8 C1092.4,950 1090.3,968.8 1088.1,984.3 C1085.9,999.8 1083,1010.5 1080.9,1025.6 C1078.8,1040.7 1076.6,1066.8 1075.7,1075" fill="none" stroke="#000" stroke-width="3.4" stroke-dasharray="4.5 2.5"/>
<text x="0" y="0" font-size="29.5" text-anchor="middle" dominant-baseline="central" stroke="#000" stroke-width="0.35" transform="translate(1098,704) rotate(80)">-2</text>
<path d="M1107.7,1075 C1108.2,1070.2 1109.4,1057.9 1110.8,1046.2 C1112.2,1034.5 1113.7,1018.8 1115.9,1005 C1118.1,991.2 1122,976.8 1124.2,963.7 C1126.4,950.6 1128.5,932.8 1129.3,926.6" fill="none" stroke="#000" stroke-width="3.4" stroke-dasharray="4.5 2.5"/>
<path d="M1140.7,891.5 C1141,883.8 1142,857.5 1142.7,845 C1143.4,832.5 1144.1,824.1 1144.8,816.2 C1145.5,808.3 1146.9,801.7 1146.9,797.6 C1146.9,793.5 1146.2,793.1 1144.8,791.4 C1143.4,789.7 1140,793.5 1138.6,787.3 C1137.2,781.1 1137.2,766.7 1136.5,754.3 C1135.8,741.9 1134.5,726.8 1134.5,713.1 C1134.5,699.4 1135.5,682.2 1136.5,671.9 C1137.5,661.6 1138.6,656.4 1140.7,651.2 C1142.8,646 1146.2,639.9 1148.9,640.9 C1151.7,641.9 1155.5,648.8 1157.2,657.4 C1158.9,666 1158.5,676.4 1159.2,692.5 C1159.9,708.6 1160.6,733.7 1161.3,754.3 C1162,774.9 1162.9,801.9 1163.4,816.2 C1163.9,830.5 1163.4,829.2 1164.4,840 C1165.4,850.8 1167.6,864 1169.5,881.2 C1171.4,898.4 1173.6,931.1 1175.7,943.1 C1177.8,955.1 1179.2,948.9 1181.9,953.4 C1184.7,957.9 1190.5,967.1 1192.2,969.9" fill="none" stroke="#000" stroke-width="3.4" stroke-dasharray="4.5 2.5"/>
<text x="0" y="0" font-size="29.5" text-anchor="middle" dominant-baseline="central" stroke="#000" stroke-width="0.35" transform="translate(1139.5,909) rotate(-80)">-1</text>
<path d="M1177.8,613.3 C1178.1,619.6 1178.9,634.6 1179.8,651.2 C1180.7,667.8 1181.5,692.5 1182.9,713.1 C1184.3,733.7 1186.5,755.1 1188.1,775 C1189.6,794.9 1191.5,823.1 1192.2,832.7" fill="none" stroke="#000" stroke-width="3.4" stroke-dasharray="4.5 2.5"/>
<path d="M793.9,612.7 h5 M1293.1,612.7 h-5" stroke="#000" stroke-width="1.3" fill="none"/>
<text x="0" y="0" transform="translate(786.4,626.3) scale(0.99,1.045)" font-size="30" text-anchor="end" stroke="#000" stroke-width="0.4">0</text>
<path d="M793.9,705.2 h5 M1293.1,705.2 h-5" stroke="#000" stroke-width="1.3" fill="none"/>
<text x="0" y="0" transform="translate(786.4,718.8) scale(0.99,1.045)" font-size="30" text-anchor="end" stroke="#000" stroke-width="0.4">100</text>
<path d="M793.9,797.7 h5 M1293.1,797.7 h-5" stroke="#000" stroke-width="1.3" fill="none"/>
<text x="0" y="0" transform="translate(786.4,811.3) scale(0.99,1.045)" font-size="30" text-anchor="end" stroke="#000" stroke-width="0.4">200</text>
<path d="M793.9,890.3 h5 M1293.1,890.3 h-5" stroke="#000" stroke-width="1.3" fill="none"/>
<text x="0" y="0" transform="translate(786.4,903.9) scale(0.99,1.045)" font-size="30" text-anchor="end" stroke="#000" stroke-width="0.4">300</text>
<path d="M793.9,982.8 h5 M1293.1,982.8 h-5" stroke="#000" stroke-width="1.3" fill="none"/>
<text x="0" y="0" transform="translate(786.4,996.4) scale(0.99,1.045)" font-size="30" text-anchor="end" stroke="#000" stroke-width="0.4">400</text>
<path d="M793.9,1075.3 h5 M1293.1,1075.3 h-5" stroke="#000" stroke-width="1.3" fill="none"/>
<text x="0" y="0" transform="translate(786.4,1088.9) scale(0.99,1.045)" font-size="30" text-anchor="end" stroke="#000" stroke-width="0.4">500</text>
<path d="M793.9,1075.3 v-5 M793.9,612.7 v5" stroke="#000" stroke-width="1.3" fill="none"/>
<text x="0" y="0" transform="translate(787.9,1116) scale(0.99,1.045)" font-size="30" text-anchor="middle" stroke="#000" stroke-width="0.4">-5</text>
<path d="M1043.5,1075.3 v-5 M1043.5,612.7 v5" stroke="#000" stroke-width="1.3" fill="none"/>
<text x="0" y="0" transform="translate(1043.5,1116) scale(0.99,1.045)" font-size="30" text-anchor="middle" stroke="#000" stroke-width="0.4">0</text>
<path d="M1293.1,1075.3 v-5 M1293.1,612.7 v5" stroke="#000" stroke-width="1.3" fill="none"/>
<text x="0" y="0" transform="translate(1293.1,1116) scale(0.99,1.045)" font-size="30" text-anchor="middle" stroke="#000" stroke-width="0.4">5</text>
<rect x="793.9" y="612.7" width="499.2" height="462.6" fill="none" stroke="#111" stroke-width="1.45"/>
<text x="0" y="0" transform="translate(1042.3,1154.3) scale(1.0,1.07)" font-size="33.5" text-anchor="middle" stroke="#000" stroke-width="0.4">Distance(<tspan font-size="27" dy="-1.5">°</tspan><tspan dy="1.5">)</tspan></text>
<text x="0" y="0" transform="translate(809.3,668) scale(1.0,1.04)" font-size="32" text-anchor="start" font-weight="bold" stroke="#000" stroke-width="0.2">e</text>
<rect x="1315.2" y="612.7" width="32.6" height="42.9" fill="#3d001f"/>
<rect x="1315.2" y="655" width="32.6" height="42.9" fill="#d73027"/>
<rect x="1315.2" y="697.2" width="32.6" height="42.9" fill="#f46d43"/>
<rect x="1315.2" y="739.5" width="32.6" height="42.9" fill="#fdae61"/>
<rect x="1315.2" y="781.8" width="32.6" height="42.9" fill="#fee090"/>
<rect x="1315.2" y="824.1" width="32.6" height="42.9" fill="#ffffbf"/>
<rect x="1315.2" y="866.3" width="32.6" height="42.9" fill="#e0f3f8"/>
<rect x="1315.2" y="908.6" width="32.6" height="42.9" fill="#abd9e9"/>
<rect x="1315.2" y="950.9" width="32.6" height="42.9" fill="#74add1"/>
<rect x="1315.2" y="993.2" width="32.6" height="42.9" fill="#4575b4"/>
<rect x="1315.2" y="1035.4" width="32.6" height="42.9" fill="#313695"/>
<text x="0" y="0" transform="translate(1353.8,626.8) scale(0.99,1.045)" font-size="30" text-anchor="start" stroke="#000" stroke-width="0.4">5</text>
<path d="M1315.2,705.7 h4 M1347.8,705.7 h-4" stroke="#000" stroke-width="1.3" fill="none"/>
<text x="0" y="0" transform="translate(1353.8,719.8) scale(0.99,1.045)" font-size="30" text-anchor="start" stroke="#000" stroke-width="0.4">3</text>
<path d="M1315.2,798.7 h4 M1347.8,798.7 h-4" stroke="#000" stroke-width="1.3" fill="none"/>
<text x="0" y="0" transform="translate(1353.8,812.8) scale(0.99,1.045)" font-size="30" text-anchor="start" stroke="#000" stroke-width="0.4">1</text>
<path d="M1315.2,891.7 h4 M1347.8,891.7 h-4" stroke="#000" stroke-width="1.3" fill="none"/>
<text x="0" y="0" transform="translate(1353.8,905.8) scale(0.99,1.045)" font-size="30" text-anchor="start" stroke="#000" stroke-width="0.4">-1</text>
<path d="M1315.2,984.7 h4 M1347.8,984.7 h-4" stroke="#000" stroke-width="1.3" fill="none"/>
<text x="0" y="0" transform="translate(1353.8,998.8) scale(0.99,1.045)" font-size="30" text-anchor="start" stroke="#000" stroke-width="0.4">-3</text>
<text x="0" y="0" transform="translate(1353.8,1091.8) scale(0.99,1.045)" font-size="30" text-anchor="start" stroke="#000" stroke-width="0.4">-5</text>
<rect x="1315.2" y="612.7" width="32.6" height="465" fill="none" stroke="#111" stroke-width="1.45"/>
<clipPath id="clip21"><rect x="1588.2" y="613.2" width="300.3" height="462.1"/></clipPath>
<g clip-path="url(#clip21)">
<rect x="1588.2" y="613" width="300.29999999999995" height="463" fill="#ffffbf"/>
<path d="M1580,760 C1581.4,760.8 1586.5,761.7 1588.5,765 C1590.5,768.3 1591,774.2 1592,780 C1593,785.8 1593.8,790 1594.4,800 C1595,810 1595.2,816.1 1595.5,840 C1595.8,863.9 1596,908.7 1596.5,943.1 C1597,977.5 1598.1,1024.5 1598.6,1046.2 C1599.1,1067.9 1599.4,1065.7 1599.6,1073 C1599.8,1080.3 1599.6,1087.2 1599.6,1090 L1580,1090 Z" fill="#e0f3f8"/>
<path d="M1605.5,600 C1605.5,602.3 1606.2,607.3 1605.8,614 C1605.4,620.7 1604,632.3 1603,640 C1602,647.7 1600.6,653.3 1600,660 C1599.4,666.7 1598.9,670 1599.6,680 C1600.3,690 1602.5,709.3 1604,720 C1605.5,730.7 1607.4,743.2 1608.9,744 C1610.4,744.8 1611.7,732.3 1613,725 C1614.3,717.7 1616.2,708.8 1617,700 C1617.8,691.2 1618.4,682 1618.1,672 C1617.8,662 1615.8,649.7 1615,640 C1614.2,630.3 1613.3,620.7 1613,614 C1612.7,607.3 1613,602.3 1613,600 Z" fill="#fee090"/>
<path d="M1632.6,768.8 C1634.1,768 1634.9,778.1 1636,785 C1637.1,791.9 1638,800.8 1639,810 C1640,819.2 1641.4,824.7 1641.9,840 C1642.4,855.3 1642.2,884.7 1641.9,901.9 C1641.6,919.1 1641.2,927.6 1639.8,943.1 C1638.4,958.6 1635.3,981.6 1633.6,994.6 C1631.9,1007.6 1631.2,1014.9 1629.5,1021.4 C1627.8,1027.9 1625.7,1036.5 1623.3,1033.8 C1620.9,1031.1 1616.9,1016.7 1615,1005 C1613.1,993.3 1612.3,980.9 1612,963.7 C1611.7,946.5 1612.5,922.5 1613,901.9 C1613.5,881.3 1613.8,853.6 1615,840 C1616.2,826.4 1618,828.3 1620,820 C1622,811.7 1624.9,798.5 1627,790 C1629.1,781.5 1631.1,769.6 1632.6,768.8 Z" fill="#fee090"/>
<path d="M1641.9,1090 C1641.9,1087.2 1641.6,1078.6 1641.9,1073 C1642.2,1067.4 1642.9,1064.4 1643.9,1056.5 C1644.9,1048.6 1646.8,1041.1 1648,1025.6 C1649.2,1010.1 1650.4,984.3 1651.1,963.7 C1651.8,943.1 1651.3,922.5 1652.2,901.9 C1653.1,881.3 1655.3,852.1 1656.3,840 C1657.3,827.9 1657.7,829 1658.4,829 C1659.1,829 1658.7,833 1660.4,840 C1662.1,847 1666.3,857.1 1668.7,870.9 C1671.1,884.6 1673.3,903.6 1674.8,922.5 C1676.3,941.4 1677,963.7 1677.9,984.3 C1678.8,1004.9 1679.5,1031.4 1680,1046.2 C1680.5,1061 1680.8,1065.7 1681,1073 C1681.2,1080.3 1681,1087.2 1681,1090 Z" fill="#e0f3f8"/>
<path d="M1729,600 C1729,602.3 1728.9,607.3 1729,614 C1729.1,620.7 1729.2,630.7 1729.5,640 C1729.8,649.3 1730.5,660.8 1731,670 C1731.5,679.2 1731.9,695 1732.5,695 C1733.1,695 1733.9,679.2 1734.5,670 C1735.1,660.8 1735.7,649.3 1736,640 C1736.3,630.7 1736.4,620.7 1736.5,614 C1736.6,607.3 1736.5,602.3 1736.5,600 Z" fill="#e0f3f8"/>
<path d="M1714,640.9 C1715,644.3 1718.8,649.5 1720.2,661.5 C1721.6,673.5 1722.1,700 1722.3,713.1 C1722.5,726.2 1721.7,728.4 1721.2,740 C1720.7,751.6 1719.2,768.5 1719.2,782.5 C1719.2,796.5 1721.2,810 1721.2,823.7 C1721.2,837.5 1719.7,853 1719.2,865 C1718.7,877 1717.4,892.5 1718.1,895.9 C1718.8,899.3 1720.7,894.2 1723.3,885.6 C1725.9,877 1730.8,858 1733.6,844.3 C1736.3,830.5 1737.9,816.3 1739.8,803.1 C1741.7,789.9 1743.5,782.2 1745,765 C1746.5,747.8 1747.7,717.5 1749,700 C1750.3,682.5 1751.8,674.3 1753,660 C1754.2,645.7 1755.8,624 1756.3,614 C1756.8,604 1756.3,602.3 1756.3,600 L1785,600 C1785,602.3 1784.8,597.7 1785,614 C1785.2,630.3 1785.7,672 1786.3,698 C1786.9,724 1788,746.3 1788.5,770 C1789,793.7 1790,814.6 1789.5,840 C1789,865.4 1787.1,906 1785.4,922.5 C1783.7,939 1780.9,932.1 1779.2,939 C1777.5,945.9 1776.3,949.3 1775.1,963.7 C1773.9,978.1 1772.7,1007.4 1772,1025.6 C1771.3,1043.8 1771.1,1062.3 1770.9,1073 C1770.7,1083.7 1770.9,1087.2 1770.9,1090 L1694.4,1090 C1694.4,1087.2 1694.6,1094 1694.4,1073 C1694.2,1052 1693.9,992.2 1693.4,963.7 C1692.9,935.2 1692,920.9 1691.3,901.9 C1690.6,882.9 1690,860.9 1689.3,850 C1688.6,839.1 1688.2,844.1 1687.2,836.8 C1686.2,829.4 1683.4,814.5 1683.1,805.9 C1682.8,797.3 1683.1,793.9 1685.2,785.3 C1687.3,776.7 1693.1,766.3 1695.5,754.3 C1697.9,742.3 1697.9,726.8 1699.6,713.1 C1701.3,699.4 1703.4,683.9 1705.8,671.9 C1708.2,659.9 1712.6,646.1 1714,640.9 Z" fill="#fee090"/>
<path d="M1691.3,600 C1691.3,602.2 1690.8,609.3 1691.3,613.3 C1691.8,617.3 1693,624 1694,624 C1695,624 1696.9,617.3 1697.5,613.3 C1698.1,609.3 1697.5,602.2 1697.5,600 Z" fill="#fee090"/>
<path d="M1699.6,600 C1699.6,602.3 1699.3,609 1699.6,614 C1699.9,619 1700.8,625.8 1701.5,630 C1702.2,634.2 1702.8,639 1703.5,639 C1704.2,639 1705.1,634.2 1705.8,630 C1706.5,625.8 1707.5,619 1707.8,614 C1708.1,609 1707.8,602.3 1707.8,600 Z" fill="#fee090"/>
<path d="M1709.3,726.8 C1710.5,726.8 1711.9,745.8 1712,761.9 C1712.1,778 1710.9,806.5 1709.9,823.7 C1708.9,840.9 1707,855.4 1705.8,865 C1704.6,874.6 1703.2,888.3 1702.7,881.4 C1702.2,874.5 1702.4,843.6 1702.7,823.7 C1703,803.8 1703.6,778 1704.7,761.9 C1705.8,745.8 1708.1,726.8 1709.3,726.8 Z" fill="#fdae61"/>
<path d="M1760.7,600 C1760.7,602.3 1761.6,597.7 1760.7,614 C1759.8,630.3 1757.1,672 1755.6,698 C1754.1,724 1753.5,746.3 1751.9,770 C1750.3,793.7 1747.5,814.6 1746.2,840 C1744.9,865.4 1744.8,895 1744.1,922.5 C1743.4,950 1742.8,979.9 1742.1,1005 C1741.4,1030.1 1740.3,1058.8 1740,1073 C1739.7,1087.2 1740,1087.2 1740,1090 L1754.4,1090 C1754.4,1087.2 1753.4,1083.7 1754.4,1073 C1755.4,1062.3 1758.5,1043.8 1760.6,1025.6 C1762.7,1007.4 1764.7,984.3 1766.8,963.7 C1768.9,943.1 1771.1,922.5 1773,901.9 C1774.9,881.3 1776.6,857 1778.1,840 C1779.6,823 1781,811.7 1782,800 C1783,788.3 1784.2,787 1784.1,770 C1783.9,753 1781.6,724 1781.1,698 C1780.6,672 1781,630.3 1781,614 C1781,597.7 1781,602.3 1781,600 Z" fill="#fdae61"/>
<path d="M1764,600 C1764,602.3 1764.5,604 1764,614 C1763.5,624 1761.8,645.7 1761,660 C1760.2,674.3 1760,681.7 1759.5,700 C1759,718.3 1758.5,750 1757.8,770 C1757.1,790 1756.4,806.7 1755.5,820 C1754.6,833.3 1752.8,838.1 1752.4,850 C1752.1,861.9 1752.6,880.5 1753.4,891.5 C1754.2,902.5 1755.3,916.3 1757.5,916.3 C1759.7,916.3 1764.7,902.5 1766.8,891.5 C1768.9,880.5 1769,863.6 1770,850 C1771,836.4 1772.1,823.3 1773,810 C1773.9,796.7 1774.9,788.3 1775.5,770 C1776.1,751.7 1776.5,718.3 1776.8,700 C1777,681.7 1777.1,674.3 1777,660 C1776.9,645.7 1776.2,624 1776,614 C1775.8,604 1776,602.3 1776,600 Z" fill="#f46d43"/>
<path d="M1768.7,668 C1769.8,668.8 1771.7,680 1772.5,685 C1773.3,690 1773.7,683.8 1773.8,698 C1773.9,712.2 1773.5,753 1773,770 C1772.5,787 1772,790 1771,800 C1770,810 1768.4,822.3 1767,830 C1765.6,837.7 1763.6,846 1762.5,846 C1761.4,846 1760.9,837.7 1760.5,830 C1760.1,822.3 1760,810 1760,800 C1760,790 1760.2,783.3 1760.7,770 C1761.2,756.7 1762.4,732 1763,720 C1763.6,708 1763.8,704.7 1764.3,698 C1764.8,691.3 1765.3,685 1766,680 C1766.7,675 1767.6,667.2 1768.7,668 Z" fill="#d73027"/>
<path d="M1795.7,632.7 C1797,632.4 1799,635.2 1800,640 C1801,644.8 1802.1,654 1801.9,661.5 C1801.7,669 1800.5,677.8 1799,685 C1797.5,692.2 1794.1,704.8 1792.6,704.8 C1791.1,704.8 1790.5,692.2 1790.2,685 C1789.9,677.8 1790.2,668.7 1790.5,661.5 C1790.8,654.3 1791.1,646.8 1792,642 C1792.9,637.2 1794.4,633 1795.7,632.7 Z" fill="#e0f3f8"/>
<path d="M1808,671.9 C1808,669.1 1806.3,658.8 1808,655.4 C1809.7,652 1815,652.9 1818.4,651.2 C1821.9,649.5 1825.6,646.5 1828.7,645.1 C1831.8,643.7 1834.9,642 1836.9,643 C1839,644 1839.6,646.4 1841,651.2 C1842.4,656 1843.5,665 1845.2,671.9 C1846.9,678.8 1849.2,685.6 1851.3,692.5 C1853.3,699.4 1855.8,706.2 1857.5,713.1 C1859.2,720 1860.6,723.4 1861.6,733.7 C1862.6,744 1863.3,757.3 1863.7,775 C1864.1,792.7 1863.7,818.9 1863.7,840 C1863.7,861.1 1863.4,881.3 1863.7,901.9 C1864,922.5 1865.3,935.2 1865.8,963.7 C1866.3,992.2 1866.6,1052 1866.8,1073 C1867,1094 1866.8,1087.2 1866.8,1090 L1813,1090 C1812.9,1087.2 1813.2,1084.8 1812.5,1073 C1811.8,1061.2 1810.1,1019.4 1809,1019.4 C1807.9,1019.4 1806.5,1061.2 1806,1073 C1805.5,1084.8 1806,1087.2 1806,1090 L1801.9,1090 C1801.9,1087.2 1802.2,1085.5 1801.9,1073 C1801.6,1060.5 1801.3,1030.1 1799.8,1015.3 C1798.2,1000.5 1794,1003.2 1792.6,984.3 C1791.2,965.4 1790.8,925.1 1791.5,901.9 C1792.2,878.7 1795.3,859.3 1797,845 C1798.7,830.7 1800.4,827.9 1801.9,816.2 C1803.4,804.5 1805,788.8 1806,775 C1807,761.2 1807.7,750.9 1808,733.7 C1808.3,716.5 1808,682.2 1808,671.9 Z" fill="#e0f3f8"/>
<path d="M1826.6,678 C1828,678 1829.8,685.5 1830.7,692.5 C1831.6,699.5 1831.7,712.4 1832,720 C1832.3,727.6 1832,736.7 1832.8,738 C1833.6,739.3 1835.6,731 1837,728 C1838.4,725 1839.8,720.2 1841,720 C1842.2,719.8 1843.3,723.7 1844,727 C1844.7,730.3 1844.7,732 1845.2,740 C1845.7,748 1846.5,762.3 1847.2,775 C1847.9,787.7 1848.6,803.7 1849.3,816.2 C1850,828.7 1851,835.7 1851.3,850 C1851.6,864.3 1851.6,882.9 1851.3,901.9 C1851,920.9 1850.1,946.5 1849.3,963.7 C1848.5,980.9 1847.2,994.4 1846.2,1005 C1845.2,1015.6 1845,1026.8 1843.1,1027.6 C1841.2,1028.4 1837.8,1017.2 1835,1010 C1832.2,1002.8 1828.3,997.2 1826.6,984.3 C1824.8,971.4 1825.9,946.5 1824.5,932.8 C1823.1,919.1 1820.1,915.7 1818.4,901.9 C1816.7,888.1 1815.2,864.3 1814.5,850 C1813.8,835.7 1814.1,828.7 1814.2,816.2 C1814.3,803.7 1814.6,788.8 1815.3,775 C1816,761.2 1817.2,747.5 1818.4,733.7 C1819.6,720 1821.1,701.8 1822.5,692.5 C1823.9,683.2 1825.2,678 1826.6,678 Z" fill="#abd9e9"/>
<path d="M1843.1,777 C1844.1,777 1844.5,785.6 1845.2,795.6 C1845.9,805.6 1847.1,826.9 1847.2,836.8 C1847.3,846.7 1846.7,847.9 1846,855 C1845.3,862.1 1844.3,880 1843.1,879.2 C1841.8,878.4 1839.5,857.1 1838.5,850 C1837.5,842.9 1836.8,845.9 1836.9,836.8 C1837,827.7 1838,805.6 1839,795.6 C1840,785.6 1842.1,777 1843.1,777 Z" fill="#74add1"/>
<path d="M1843.1,600 C1843.1,602.3 1842.4,607.2 1843.1,614 C1843.8,620.8 1845.5,631.2 1847.2,640.9 C1848.9,650.5 1851.7,664 1853.4,671.9 C1855.1,679.8 1856.1,688.4 1857.5,688.4 C1858.9,688.4 1860.2,679.8 1861.6,671.9 C1863,664 1864.8,650.5 1865.8,640.9 C1866.8,631.2 1867.5,620.8 1867.8,614 C1868.1,607.2 1867.8,602.3 1867.8,600 Z" fill="#fee090"/>
<path d="M1876.1,600 C1876.1,602.3 1875.8,609 1876.1,614 C1876.4,619 1877,625.5 1878,630 C1879,634.5 1881.1,637.4 1882.3,640.9 C1883.5,644.4 1884.8,647 1885,651 C1885.2,655 1883.9,656.8 1883.5,665 C1883.1,673.2 1882.8,677.5 1882.5,700 C1882.2,722.5 1882,771.7 1882,800 C1882,828.3 1881.9,851.3 1882.3,870 C1882.7,888.7 1882.2,902.8 1884.3,912 C1886.4,921.2 1893.2,922.8 1895,925 L1895,600 Z" fill="#e0f3f8"/>
<path d="M1886,725 C1886.7,721.7 1888.1,729.2 1888.5,740 C1888.9,750.8 1888.9,780.7 1888.5,790 C1888.1,799.3 1886.7,801 1886,796 C1885.3,791 1884.5,771.8 1884.5,760 C1884.5,748.2 1885.3,728.3 1886,725 Z" fill="#abd9e9"/>
</g>
<path d="M1588.2,714.1 C1588.9,718 1590.7,729.4 1592.4,737.8 C1594.1,746.2 1596.9,756 1598.6,764.6 C1600.3,773.2 1601.7,780.8 1602.7,789.4 C1603.7,798 1604.4,806.1 1604.7,816.2 C1605,826.3 1604.9,828.9 1604.7,850 C1604.5,871.1 1603.7,910.4 1603.7,943.1 C1603.7,975.8 1604.4,1024.2 1604.7,1046.2 C1605,1068.2 1605.6,1070.2 1605.8,1075" fill="none" stroke="#6e6e6e" stroke-width="3.1" stroke-dasharray="4.4 2.6"/>
<path d="M1642.9,613.3 C1643.2,623.1 1644.7,651.8 1645,671.9 C1645.3,692 1644.7,713.1 1645,733.7 C1645.3,754.3 1646.3,776.2 1647,795.6 C1647.7,815 1648.9,832.3 1649.1,850 C1649.3,867.7 1648.5,882.9 1648,901.9 C1647.5,920.9 1647.4,944.8 1646,963.7 C1644.6,982.6 1641.9,996.8 1639.8,1015.3 C1637.7,1033.8 1634.6,1065 1633.6,1075" fill="none" stroke="#6e6e6e" stroke-width="3.1" stroke-dasharray="4.4 2.6"/>
<path d="M1666.6,613.3 C1667.3,616.9 1669.3,626.7 1670.7,634.7 C1672.1,642.7 1673.8,653.6 1674.8,661.5 C1675.8,669.4 1675.5,676.7 1676.9,682.2 C1678.3,687.7 1681.7,690 1683.1,694.5 C1684.5,699 1685.2,702.5 1685.2,709 C1685.2,715.5 1684.1,726.2 1683.1,733.7 C1682.1,741.2 1680.5,748.8 1679,754.3 C1677.5,759.8 1675,761.5 1673.8,766.7 C1672.6,771.9 1672,777 1671.8,785.3 C1671.6,793.5 1672.3,805.4 1672.8,816.2 C1673.3,827 1674.1,839.2 1674.8,850 C1675.5,860.8 1676.2,871.9 1676.9,881.2 C1677.6,890.5 1678,899.8 1679,906 C1680,912.2 1682.2,912.2 1683.1,918.4 C1683.9,924.6 1683.6,928.7 1684.1,943.1 C1684.6,957.5 1685.7,983 1686.2,1005 C1686.7,1027 1687,1063.3 1687.2,1075" fill="none" stroke="#6e6e6e" stroke-width="3.1" stroke-dasharray="4.4 2.6"/>
<path d="M1723.3,613.3 C1723.5,623.1 1723.9,651.8 1724.3,671.9 C1724.7,692 1725.1,718.7 1725.4,733.7 C1725.8,748.7 1725.9,751.5 1726.4,761.9 C1726.9,772.3 1727.7,792.6 1728.5,796 C1729.3,799.4 1730,791.6 1731.5,782.5 C1733,773.4 1736,752.5 1737.7,741.2 C1739.4,730 1740.7,723.5 1741.7,715 C1742.7,706.5 1743,697.8 1743.5,690 C1744,682.2 1744.6,676.8 1744.6,668.5 C1744.5,660.2 1742.8,646.4 1743.2,640 C1743.6,633.6 1746,632.5 1747,630 C1748,627.5 1748.9,627.8 1749,625 C1749.1,622.2 1747.8,615.2 1747.5,613.3" fill="none" stroke="#6e6e6e" stroke-width="3.1" stroke-dasharray="4.4 2.6"/>
<path d="M1789.9,613.3 C1789.4,617.6 1787.6,627.6 1787,639.2 C1786.4,650.8 1786.2,667.2 1786.3,683 C1786.4,698.8 1786.6,725.2 1787.7,734.2 C1788.8,743.2 1791.2,740.8 1792.8,737.1 C1794.4,733.5 1795.9,720.1 1797.2,712.3 C1798.5,704.4 1799.5,695.7 1800.5,690 C1801.5,684.3 1802.2,676.3 1802.9,678 C1803.6,679.7 1804.2,687.3 1804.5,700 C1804.8,712.7 1805.8,744.5 1805,754.3 C1804.2,764.1 1801.4,755.5 1800,759 C1798.6,762.5 1797.6,765.5 1796.7,775 C1795.8,784.5 1795.5,804.5 1794.6,816.2 C1793.7,827.9 1792.3,830.7 1791.5,845 C1790.7,859.3 1790.2,882.1 1789.5,901.9 C1788.8,921.7 1787.9,943.1 1787.4,963.7 C1786.9,984.3 1786.6,1007 1786.4,1025.6 C1786.2,1044.1 1786.4,1066.8 1786.4,1075" fill="none" stroke="#6e6e6e" stroke-width="3.1" stroke-dasharray="4.4 2.6"/>
<path d="M1797.7,613.3 C1798.1,616.4 1799,627.4 1800,632 C1801,636.6 1802.2,639.8 1803.9,640.9 C1805.6,642 1808,639.9 1810.1,638.9 C1812.2,637.9 1814.9,639 1816.3,634.7 C1817.7,630.4 1818.1,616.9 1818.4,613.3" fill="none" stroke="#6e6e6e" stroke-width="3.1" stroke-dasharray="4.4 2.6"/>
<path d="M1819,613.3 C1819.6,617.6 1820.5,635.3 1822.5,638.9 C1824.5,642.5 1828.8,639 1830.7,634.7 C1832.6,630.4 1833.3,616.9 1833.8,613.3" fill="none" stroke="#6e6e6e" stroke-width="3.1" stroke-dasharray="4.4 2.6"/>
<path d="M1840,613.3 C1840.2,619.6 1839.8,641.4 1841,651.2 C1842.2,661 1844.8,663.3 1847.2,671.9 C1849.6,680.5 1853.4,694.2 1855.5,702.8 C1857.6,711.4 1858.6,714.8 1859.6,723.4 C1860.6,732 1861.1,738.8 1861.6,754.3 C1862.1,769.8 1862.4,801.1 1862.7,816.2 C1863,831.3 1862.7,836.9 1863.2,845 C1863.8,853.1 1864.9,858.3 1866,865 C1867.1,871.7 1868.7,879.3 1870,885 C1871.3,890.7 1873.1,900.7 1874,899 C1874.9,897.3 1875.2,883.2 1875.5,875 C1875.8,866.8 1876,870.1 1876.1,850 C1876.2,829.9 1876.3,780.5 1876.1,754.3 C1875.9,728 1875.7,709.7 1875,692.5 C1874.3,675.3 1872.7,664.4 1872,651.2 C1871.3,638 1871.1,619.6 1870.9,613.3" fill="none" stroke="#6e6e6e" stroke-width="3.1" stroke-dasharray="4.4 2.6"/>
<path d="M1887.4,930.7 C1886.9,934.5 1885.5,946.2 1884.3,953.4 C1883.1,960.6 1881.2,968.9 1880.2,974 C1879.2,979.1 1878.6,975.7 1878.1,984.3 C1877.6,992.9 1877.4,1010.5 1877.1,1025.6 C1876.8,1040.7 1876.3,1066.8 1876.1,1075" fill="none" stroke="#6e6e6e" stroke-width="3.1" stroke-dasharray="4.4 2.6"/>
<path d="M1774.3,613.3 C1774.3,617.8 1774.4,627.2 1774.5,640 C1774.6,652.8 1775,675 1775,690 C1775,705 1774.8,717 1774.8,730 C1774.8,743 1774.8,761.7 1774.8,768" fill="none" stroke="#000" stroke-width="3"/>
<path d="M1768,613.3 C1768.2,615.8 1769,623.7 1769.5,628 C1770,632.3 1771,634.5 1770.8,639 C1770.6,643.5 1769.4,648.8 1768.5,655 C1767.6,661.2 1766.5,668.5 1765.5,676 C1764.5,683.5 1763.5,685.7 1762.5,700 C1761.5,714.3 1760.3,741.3 1759.4,761.9 C1758.5,782.5 1758,807.4 1757.3,823.7 C1756.6,840.1 1755.8,849.7 1755.5,860 C1755.2,870.3 1755,879.3 1755.3,885.6 C1755.6,891.9 1756.1,897.9 1757.3,897.9 C1758.5,897.9 1761,894.5 1762.5,885.6 C1764,876.7 1765.2,856 1766.6,844.3 C1768,832.6 1770,820.3 1770.7,815.5" fill="none" stroke="#000" stroke-width="3"/>
<text x="0" y="0" font-size="29.5" text-anchor="middle" dominant-baseline="central" stroke="#000" stroke-width="0.35" transform="translate(1777,792) rotate(-88)">0.5</text>
<path d="M1489.1,612.7 h5 M1988.3,612.7 h-5" stroke="#000" stroke-width="1.3" fill="none"/>
<text x="0" y="0" transform="translate(1481.6,626.3) scale(0.99,1.045)" font-size="30" text-anchor="end" stroke="#000" stroke-width="0.4">0</text>
<path d="M1489.1,705.2 h5 M1988.3,705.2 h-5" stroke="#000" stroke-width="1.3" fill="none"/>
<text x="0" y="0" transform="translate(1481.6,718.8) scale(0.99,1.045)" font-size="30" text-anchor="end" stroke="#000" stroke-width="0.4">100</text>
<path d="M1489.1,797.7 h5 M1988.3,797.7 h-5" stroke="#000" stroke-width="1.3" fill="none"/>
<text x="0" y="0" transform="translate(1481.6,811.3) scale(0.99,1.045)" font-size="30" text-anchor="end" stroke="#000" stroke-width="0.4">200</text>
<path d="M1489.1,890.3 h5 M1988.3,890.3 h-5" stroke="#000" stroke-width="1.3" fill="none"/>
<text x="0" y="0" transform="translate(1481.6,903.9) scale(0.99,1.045)" font-size="30" text-anchor="end" stroke="#000" stroke-width="0.4">300</text>
<path d="M1489.1,982.8 h5 M1988.3,982.8 h-5" stroke="#000" stroke-width="1.3" fill="none"/>
<text x="0" y="0" transform="translate(1481.6,996.4) scale(0.99,1.045)" font-size="30" text-anchor="end" stroke="#000" stroke-width="0.4">400</text>
<path d="M1489.1,1075.3 h5 M1988.3,1075.3 h-5" stroke="#000" stroke-width="1.3" fill="none"/>
<text x="0" y="0" transform="translate(1481.6,1088.9) scale(0.99,1.045)" font-size="30" text-anchor="end" stroke="#000" stroke-width="0.4">500</text>
<path d="M1489.1,1075.3 v-5 M1489.1,612.7 v5" stroke="#000" stroke-width="1.3" fill="none"/>
<text x="0" y="0" transform="translate(1483.1,1116) scale(0.99,1.045)" font-size="30" text-anchor="middle" stroke="#000" stroke-width="0.4">-5</text>
<path d="M1738.7,1075.3 v-5 M1738.7,612.7 v5" stroke="#000" stroke-width="1.3" fill="none"/>
<text x="0" y="0" transform="translate(1738.7,1116) scale(0.99,1.045)" font-size="30" text-anchor="middle" stroke="#000" stroke-width="0.4">0</text>
<path d="M1988.3,1075.3 v-5 M1988.3,612.7 v5" stroke="#000" stroke-width="1.3" fill="none"/>
<text x="0" y="0" transform="translate(1988.3,1116) scale(0.99,1.045)" font-size="30" text-anchor="middle" stroke="#000" stroke-width="0.4">5</text>
<rect x="1489.1" y="612.7" width="499.2" height="462.6" fill="none" stroke="#111" stroke-width="1.45"/>
<text x="0" y="0" transform="translate(1737.5,1154.3) scale(1.0,1.07)" font-size="33.5" text-anchor="middle" stroke="#000" stroke-width="0.4">Distance(<tspan font-size="27" dy="-1.5">°</tspan><tspan dy="1.5">)</tspan></text>
<text x="0" y="0" transform="translate(1504.5,668) scale(1.0,1.04)" font-size="32" text-anchor="start" font-weight="bold" stroke="#000" stroke-width="0.2">f</text>
<rect x="2010.4" y="612.7" width="32.6" height="42.9" fill="#3d001f"/>
<rect x="2010.4" y="655" width="32.6" height="42.9" fill="#d73027"/>
<rect x="2010.4" y="697.2" width="32.6" height="42.9" fill="#f46d43"/>
<rect x="2010.4" y="739.5" width="32.6" height="42.9" fill="#fdae61"/>
<rect x="2010.4" y="781.8" width="32.6" height="42.9" fill="#fee090"/>
<rect x="2010.4" y="824.1" width="32.6" height="42.9" fill="#ffffbf"/>
<rect x="2010.4" y="866.3" width="32.6" height="42.9" fill="#e0f3f8"/>
<rect x="2010.4" y="908.6" width="32.6" height="42.9" fill="#abd9e9"/>
<rect x="2010.4" y="950.9" width="32.6" height="42.9" fill="#74add1"/>
<rect x="2010.4" y="993.2" width="32.6" height="42.9" fill="#4575b4"/>
<rect x="2010.4" y="1035.4" width="32.6" height="42.9" fill="#313695"/>
<text x="0" y="0" transform="translate(2049,626.8) scale(0.99,1.045)" font-size="30" text-anchor="start" stroke="#000" stroke-width="0.4">1</text>
<path d="M2010.4,729 h4 M2043,729 h-4" stroke="#000" stroke-width="1.3" fill="none"/>
<text x="0" y="0" transform="translate(2049,743.1) scale(0.99,1.045)" font-size="30" text-anchor="start" stroke="#000" stroke-width="0.4">0.5</text>
<path d="M2010.4,845.2 h4 M2043,845.2 h-4" stroke="#000" stroke-width="1.3" fill="none"/>
<text x="0" y="0" transform="translate(2049,859.3) scale(0.99,1.045)" font-size="30" text-anchor="start" stroke="#000" stroke-width="0.4">0</text>
<path d="M2010.4,961.5 h4 M2043,961.5 h-4" stroke="#000" stroke-width="1.3" fill="none"/>
<text x="0" y="0" transform="translate(2049,975.6) scale(0.99,1.045)" font-size="30" text-anchor="start" stroke="#000" stroke-width="0.4">-0.5</text>
<text x="0" y="0" transform="translate(2049,1091.8) scale(0.99,1.045)" font-size="30" text-anchor="start" stroke="#000" stroke-width="0.4">-1</text>
<rect x="2010.4" y="612.7" width="32.6" height="465" fill="none" stroke="#111" stroke-width="1.45"/>
</svg>
</body></html>
